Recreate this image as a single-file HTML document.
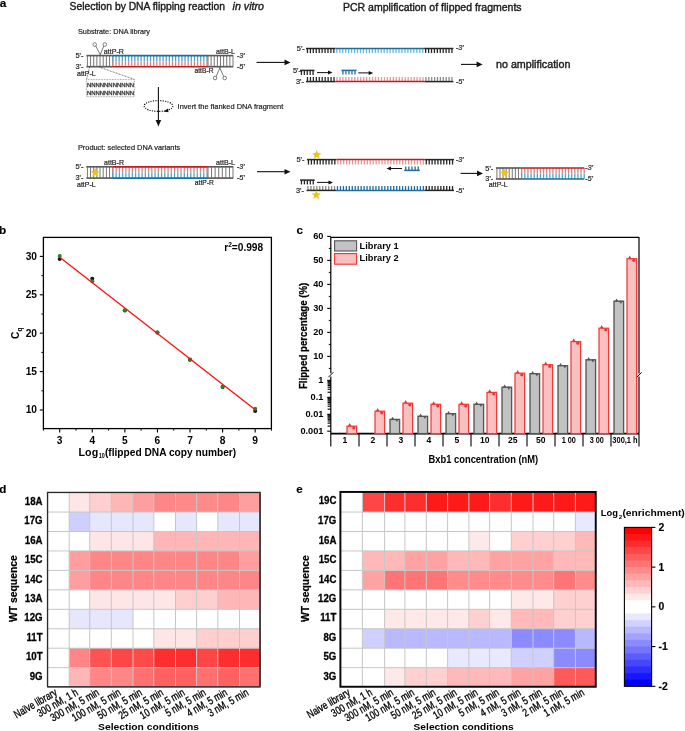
<!DOCTYPE html>
<html><head><meta charset="utf-8"><title>Figure</title>
<style>
html,body{margin:0;padding:0;background:#fff;}
body{width:685px;height:731px;overflow:hidden;}
svg{display:block;font-family:"Liberation Sans",sans-serif;will-change:transform;}
</style></head><body>
<svg width="685" height="731" viewBox="0 0 685 731">
<rect width="685" height="731" fill="#fff"/>
<text x="-0.2" y="6.5" font-size="11.8" font-weight="bold" stroke="#000" stroke-width="0.15">a</text>
<text x="69.6" y="10.2" font-size="11" fill="#1a1a1a" textLength="155.4" lengthAdjust="spacingAndGlyphs" stroke="#1a1a1a" stroke-width="0.4">Selection by DNA flipping reaction</text>
<text x="232.6" y="10.2" font-size="11" fill="#1a1a1a" textLength="31.4" lengthAdjust="spacingAndGlyphs" font-style="italic" stroke="#1a1a1a" stroke-width="0.4">in vitro</text>
<text x="343" y="11" font-size="11" fill="#1a1a1a" textLength="178.6" lengthAdjust="spacingAndGlyphs" stroke="#1a1a1a" stroke-width="0.4">PCR amplification of flipped fragments</text>
<text x="78" y="34" font-size="7.6" fill="#222" textLength="72" lengthAdjust="spacingAndGlyphs" stroke="#222" stroke-width="0.2">Substrate: DNA library</text>
<line x1="87.4" y1="55.6" x2="87.4" y2="66.7" stroke="#707070" stroke-width="0.95" />
<line x1="90.56" y1="55.6" x2="90.56" y2="66.7" stroke="#707070" stroke-width="0.95" />
<line x1="93.73" y1="55.6" x2="93.73" y2="66.7" stroke="#707070" stroke-width="0.95" />
<line x1="96.89" y1="55.6" x2="96.89" y2="66.7" stroke="#707070" stroke-width="0.95" />
<line x1="100.05" y1="55.6" x2="100.05" y2="66.7" stroke="#707070" stroke-width="0.95" />
<line x1="103.21" y1="55.6" x2="103.21" y2="66.7" stroke="#707070" stroke-width="0.95" />
<line x1="106.38" y1="55.6" x2="106.38" y2="66.7" stroke="#707070" stroke-width="0.95" />
<line x1="109.54" y1="55.6" x2="109.54" y2="66.7" stroke="#707070" stroke-width="0.95" />
<line x1="112.7" y1="55.6" x2="112.7" y2="66.7" stroke="#707070" stroke-width="0.95" />
<line x1="112.9" y1="55.6" x2="112.9" y2="61.15" stroke="#4fa6d0" stroke-width="1.3" />
<line x1="112.9" y1="61.15" x2="112.9" y2="66.7" stroke="#e48080" stroke-width="1.3" />
<line x1="116.04" y1="55.6" x2="116.04" y2="61.15" stroke="#4fa6d0" stroke-width="1.3" />
<line x1="116.04" y1="61.15" x2="116.04" y2="66.7" stroke="#e48080" stroke-width="1.3" />
<line x1="119.17" y1="55.6" x2="119.17" y2="61.15" stroke="#4fa6d0" stroke-width="1.3" />
<line x1="119.17" y1="61.15" x2="119.17" y2="66.7" stroke="#e48080" stroke-width="1.3" />
<line x1="122.31" y1="55.6" x2="122.31" y2="61.15" stroke="#4fa6d0" stroke-width="1.3" />
<line x1="122.31" y1="61.15" x2="122.31" y2="66.7" stroke="#e48080" stroke-width="1.3" />
<line x1="125.45" y1="55.6" x2="125.45" y2="61.15" stroke="#4fa6d0" stroke-width="1.3" />
<line x1="125.45" y1="61.15" x2="125.45" y2="66.7" stroke="#e48080" stroke-width="1.3" />
<line x1="128.58" y1="55.6" x2="128.58" y2="61.15" stroke="#4fa6d0" stroke-width="1.3" />
<line x1="128.58" y1="61.15" x2="128.58" y2="66.7" stroke="#e48080" stroke-width="1.3" />
<line x1="131.72" y1="55.6" x2="131.72" y2="61.15" stroke="#4fa6d0" stroke-width="1.3" />
<line x1="131.72" y1="61.15" x2="131.72" y2="66.7" stroke="#e48080" stroke-width="1.3" />
<line x1="134.86" y1="55.6" x2="134.86" y2="61.15" stroke="#4fa6d0" stroke-width="1.3" />
<line x1="134.86" y1="61.15" x2="134.86" y2="66.7" stroke="#e48080" stroke-width="1.3" />
<line x1="137.99" y1="55.6" x2="137.99" y2="61.15" stroke="#4fa6d0" stroke-width="1.3" />
<line x1="137.99" y1="61.15" x2="137.99" y2="66.7" stroke="#e48080" stroke-width="1.3" />
<line x1="141.13" y1="55.6" x2="141.13" y2="61.15" stroke="#4fa6d0" stroke-width="1.3" />
<line x1="141.13" y1="61.15" x2="141.13" y2="66.7" stroke="#e48080" stroke-width="1.3" />
<line x1="144.27" y1="55.6" x2="144.27" y2="61.15" stroke="#4fa6d0" stroke-width="1.3" />
<line x1="144.27" y1="61.15" x2="144.27" y2="66.7" stroke="#e48080" stroke-width="1.3" />
<line x1="147.4" y1="55.6" x2="147.4" y2="61.15" stroke="#4fa6d0" stroke-width="1.3" />
<line x1="147.4" y1="61.15" x2="147.4" y2="66.7" stroke="#e48080" stroke-width="1.3" />
<line x1="150.54" y1="55.6" x2="150.54" y2="61.15" stroke="#4fa6d0" stroke-width="1.3" />
<line x1="150.54" y1="61.15" x2="150.54" y2="66.7" stroke="#e48080" stroke-width="1.3" />
<line x1="153.68" y1="55.6" x2="153.68" y2="61.15" stroke="#4fa6d0" stroke-width="1.3" />
<line x1="153.68" y1="61.15" x2="153.68" y2="66.7" stroke="#e48080" stroke-width="1.3" />
<line x1="156.81" y1="55.6" x2="156.81" y2="61.15" stroke="#4fa6d0" stroke-width="1.3" />
<line x1="156.81" y1="61.15" x2="156.81" y2="66.7" stroke="#e48080" stroke-width="1.3" />
<line x1="159.95" y1="55.6" x2="159.95" y2="61.15" stroke="#4fa6d0" stroke-width="1.3" />
<line x1="159.95" y1="61.15" x2="159.95" y2="66.7" stroke="#e48080" stroke-width="1.3" />
<line x1="163.09" y1="55.6" x2="163.09" y2="61.15" stroke="#4fa6d0" stroke-width="1.3" />
<line x1="163.09" y1="61.15" x2="163.09" y2="66.7" stroke="#e48080" stroke-width="1.3" />
<line x1="166.22" y1="55.6" x2="166.22" y2="61.15" stroke="#4fa6d0" stroke-width="1.3" />
<line x1="166.22" y1="61.15" x2="166.22" y2="66.7" stroke="#e48080" stroke-width="1.3" />
<line x1="169.36" y1="55.6" x2="169.36" y2="61.15" stroke="#4fa6d0" stroke-width="1.3" />
<line x1="169.36" y1="61.15" x2="169.36" y2="66.7" stroke="#e48080" stroke-width="1.3" />
<line x1="172.5" y1="55.6" x2="172.5" y2="61.15" stroke="#4fa6d0" stroke-width="1.3" />
<line x1="172.5" y1="61.15" x2="172.5" y2="66.7" stroke="#e48080" stroke-width="1.3" />
<line x1="175.63" y1="55.6" x2="175.63" y2="61.15" stroke="#4fa6d0" stroke-width="1.3" />
<line x1="175.63" y1="61.15" x2="175.63" y2="66.7" stroke="#e48080" stroke-width="1.3" />
<line x1="178.77" y1="55.6" x2="178.77" y2="61.15" stroke="#4fa6d0" stroke-width="1.3" />
<line x1="178.77" y1="61.15" x2="178.77" y2="66.7" stroke="#e48080" stroke-width="1.3" />
<line x1="181.91" y1="55.6" x2="181.91" y2="61.15" stroke="#4fa6d0" stroke-width="1.3" />
<line x1="181.91" y1="61.15" x2="181.91" y2="66.7" stroke="#e48080" stroke-width="1.3" />
<line x1="185.04" y1="55.6" x2="185.04" y2="61.15" stroke="#4fa6d0" stroke-width="1.3" />
<line x1="185.04" y1="61.15" x2="185.04" y2="66.7" stroke="#e48080" stroke-width="1.3" />
<line x1="188.18" y1="55.6" x2="188.18" y2="61.15" stroke="#4fa6d0" stroke-width="1.3" />
<line x1="188.18" y1="61.15" x2="188.18" y2="66.7" stroke="#e48080" stroke-width="1.3" />
<line x1="191.32" y1="55.6" x2="191.32" y2="61.15" stroke="#4fa6d0" stroke-width="1.3" />
<line x1="191.32" y1="61.15" x2="191.32" y2="66.7" stroke="#e48080" stroke-width="1.3" />
<line x1="194.45" y1="55.6" x2="194.45" y2="61.15" stroke="#4fa6d0" stroke-width="1.3" />
<line x1="194.45" y1="61.15" x2="194.45" y2="66.7" stroke="#e48080" stroke-width="1.3" />
<line x1="197.59" y1="55.6" x2="197.59" y2="61.15" stroke="#4fa6d0" stroke-width="1.3" />
<line x1="197.59" y1="61.15" x2="197.59" y2="66.7" stroke="#e48080" stroke-width="1.3" />
<line x1="200.73" y1="55.6" x2="200.73" y2="61.15" stroke="#4fa6d0" stroke-width="1.3" />
<line x1="200.73" y1="61.15" x2="200.73" y2="66.7" stroke="#e48080" stroke-width="1.3" />
<line x1="203.86" y1="55.6" x2="203.86" y2="61.15" stroke="#4fa6d0" stroke-width="1.3" />
<line x1="203.86" y1="61.15" x2="203.86" y2="66.7" stroke="#e48080" stroke-width="1.3" />
<line x1="207" y1="55.6" x2="207" y2="61.15" stroke="#4fa6d0" stroke-width="1.3" />
<line x1="207" y1="61.15" x2="207" y2="66.7" stroke="#e48080" stroke-width="1.3" />
<line x1="208" y1="55.6" x2="208" y2="66.7" stroke="#707070" stroke-width="0.95" />
<line x1="211.12" y1="55.6" x2="211.12" y2="66.7" stroke="#707070" stroke-width="0.95" />
<line x1="214.25" y1="55.6" x2="214.25" y2="66.7" stroke="#707070" stroke-width="0.95" />
<line x1="217.38" y1="55.6" x2="217.38" y2="66.7" stroke="#707070" stroke-width="0.95" />
<line x1="220.5" y1="55.6" x2="220.5" y2="66.7" stroke="#707070" stroke-width="0.95" />
<line x1="223.62" y1="55.6" x2="223.62" y2="66.7" stroke="#707070" stroke-width="0.95" />
<line x1="226.75" y1="55.6" x2="226.75" y2="66.7" stroke="#707070" stroke-width="0.95" />
<line x1="229.88" y1="55.6" x2="229.88" y2="66.7" stroke="#707070" stroke-width="0.95" />
<line x1="233" y1="55.6" x2="233" y2="66.7" stroke="#707070" stroke-width="0.95" />
<line x1="86.4" y1="55.6" x2="112.9" y2="55.6" stroke="#5a5a5a" stroke-width="1.65" />
<line x1="86.4" y1="66.7" x2="112.9" y2="66.7" stroke="#5a5a5a" stroke-width="1.65" />
<line x1="112.9" y1="55.6" x2="207" y2="55.6" stroke="#1f6c9e" stroke-width="1.65" />
<line x1="112.9" y1="66.7" x2="207" y2="66.7" stroke="#c01c20" stroke-width="1.65" />
<line x1="207" y1="55.6" x2="233.2" y2="55.6" stroke="#5a5a5a" stroke-width="1.65" />
<line x1="207" y1="66.7" x2="233.2" y2="66.7" stroke="#5a5a5a" stroke-width="1.65" />
<text x="75.5" y="58.2" font-size="7.4" fill="#222" stroke="#222" stroke-width="0.2">5'-</text>
<text x="75.5" y="69" font-size="7.4" fill="#222" stroke="#222" stroke-width="0.2">3'-</text>
<text x="236.8" y="58" font-size="7.4" fill="#222" font-style="italic" stroke="#222" stroke-width="0.2">-3'</text>
<text x="236.8" y="69" font-size="7.4" fill="#222" font-style="italic" stroke="#222" stroke-width="0.2">-5'</text>
<text x="103.8" y="53.6" font-size="7.2" fill="#222" textLength="20.2" lengthAdjust="spacingAndGlyphs" stroke="#222" stroke-width="0.2">attP-R</text>
<text x="77" y="75.8" font-size="7.2" fill="#222" textLength="18.8" lengthAdjust="spacingAndGlyphs" stroke="#222" stroke-width="0.2">attP-L</text>
<text x="216" y="53.6" font-size="7.2" fill="#222" textLength="19" lengthAdjust="spacingAndGlyphs" stroke="#222" stroke-width="0.2">attB-L</text>
<text x="194.5" y="73.3" font-size="7.2" fill="#222" textLength="19" lengthAdjust="spacingAndGlyphs" stroke="#222" stroke-width="0.2">attB-R</text>
<line x1="95.6" y1="45.8" x2="100.8" y2="55.6" stroke="#555" stroke-width="0.8" />
<line x1="103.9" y1="45.8" x2="99.8" y2="55.6" stroke="#555" stroke-width="0.8" />
<circle cx="94.7" cy="44.5" r="1.8" fill="#fff" stroke="#555" stroke-width="0.75"/>
<circle cx="104.8" cy="44.5" r="1.8" fill="#fff" stroke="#555" stroke-width="0.75"/>
<line x1="216" y1="76.7" x2="220.3" y2="66.9" stroke="#555" stroke-width="0.8" />
<line x1="223.8" y1="76.7" x2="219.3" y2="66.9" stroke="#555" stroke-width="0.8" />
<circle cx="215.1" cy="78" r="1.8" fill="#fff" stroke="#555" stroke-width="0.75"/>
<circle cx="224.7" cy="78" r="1.8" fill="#fff" stroke="#555" stroke-width="0.75"/>
<line x1="89.6" y1="67.2" x2="86.6" y2="79.4" stroke="#222" stroke-width="0.75" stroke-dasharray="0.8 0.8"/>
<line x1="99.5" y1="67.2" x2="134.5" y2="79.4" stroke="#222" stroke-width="0.75" stroke-dasharray="0.8 0.8"/>
<rect x="86.4" y="79.6" width="48.1" height="17.1" fill="none" stroke="#555" stroke-width="0.6" stroke-dasharray="0.8 0.8"/>
<text x="87" y="86.8" font-size="6.2" fill="#333" textLength="47" lengthAdjust="spacingAndGlyphs" stroke="#333" stroke-width="0.3">NNNNNNNNNNN</text>
<text x="87" y="95.3" font-size="6.2" fill="#333" textLength="47" lengthAdjust="spacingAndGlyphs" stroke="#333" stroke-width="0.3">NNNNNNNNNNN</text>
<ellipse cx="158.5" cy="106" rx="14.4" ry="5.4" fill="none" stroke="#000" stroke-width="1.15" stroke-dasharray="1.1 1.3"/>
<line x1="158.4" y1="87" x2="158.4" y2="121" stroke="#111" stroke-width="1.1" />
<path d="M158.4 126.5L155.6 120L161.2 120Z" fill="#111"/>
<path d="M163.5 111.6L168 108.6L168.5 112.2Z" fill="#111"/>
<text x="177.6" y="109.2" font-size="7.6" fill="#222" textLength="105.7" lengthAdjust="spacingAndGlyphs" stroke="#222" stroke-width="0.2">Invert the flanked DNA fragment</text>
<text x="77.9" y="149.9" font-size="7.6" fill="#222" textLength="102.3" lengthAdjust="spacingAndGlyphs" stroke="#222" stroke-width="0.2">Product: selected DNA variants</text>
<line x1="87.4" y1="166.8" x2="87.4" y2="178.1" stroke="#707070" stroke-width="0.95" />
<line x1="90.56" y1="166.8" x2="90.56" y2="178.1" stroke="#707070" stroke-width="0.95" />
<line x1="93.73" y1="166.8" x2="93.73" y2="178.1" stroke="#707070" stroke-width="0.95" />
<line x1="96.89" y1="166.8" x2="96.89" y2="178.1" stroke="#707070" stroke-width="0.95" />
<line x1="100.05" y1="166.8" x2="100.05" y2="178.1" stroke="#707070" stroke-width="0.95" />
<line x1="103.21" y1="166.8" x2="103.21" y2="178.1" stroke="#707070" stroke-width="0.95" />
<line x1="106.38" y1="166.8" x2="106.38" y2="178.1" stroke="#707070" stroke-width="0.95" />
<line x1="109.54" y1="166.8" x2="109.54" y2="178.1" stroke="#707070" stroke-width="0.95" />
<line x1="112.7" y1="166.8" x2="112.7" y2="178.1" stroke="#707070" stroke-width="0.95" />
<line x1="112.9" y1="166.8" x2="112.9" y2="172.45" stroke="#e48080" stroke-width="1.3" />
<line x1="112.9" y1="172.45" x2="112.9" y2="178.1" stroke="#4fa6d0" stroke-width="1.3" />
<line x1="116.14" y1="166.8" x2="116.14" y2="172.45" stroke="#e48080" stroke-width="1.3" />
<line x1="116.14" y1="172.45" x2="116.14" y2="178.1" stroke="#4fa6d0" stroke-width="1.3" />
<line x1="119.39" y1="166.8" x2="119.39" y2="172.45" stroke="#e48080" stroke-width="1.3" />
<line x1="119.39" y1="172.45" x2="119.39" y2="178.1" stroke="#4fa6d0" stroke-width="1.3" />
<line x1="122.63" y1="166.8" x2="122.63" y2="172.45" stroke="#e48080" stroke-width="1.3" />
<line x1="122.63" y1="172.45" x2="122.63" y2="178.1" stroke="#4fa6d0" stroke-width="1.3" />
<line x1="125.88" y1="166.8" x2="125.88" y2="172.45" stroke="#e48080" stroke-width="1.3" />
<line x1="125.88" y1="172.45" x2="125.88" y2="178.1" stroke="#4fa6d0" stroke-width="1.3" />
<line x1="129.12" y1="166.8" x2="129.12" y2="172.45" stroke="#e48080" stroke-width="1.3" />
<line x1="129.12" y1="172.45" x2="129.12" y2="178.1" stroke="#4fa6d0" stroke-width="1.3" />
<line x1="132.37" y1="166.8" x2="132.37" y2="172.45" stroke="#e48080" stroke-width="1.3" />
<line x1="132.37" y1="172.45" x2="132.37" y2="178.1" stroke="#4fa6d0" stroke-width="1.3" />
<line x1="135.61" y1="166.8" x2="135.61" y2="172.45" stroke="#e48080" stroke-width="1.3" />
<line x1="135.61" y1="172.45" x2="135.61" y2="178.1" stroke="#4fa6d0" stroke-width="1.3" />
<line x1="138.86" y1="166.8" x2="138.86" y2="172.45" stroke="#e48080" stroke-width="1.3" />
<line x1="138.86" y1="172.45" x2="138.86" y2="178.1" stroke="#4fa6d0" stroke-width="1.3" />
<line x1="142.1" y1="166.8" x2="142.1" y2="172.45" stroke="#e48080" stroke-width="1.3" />
<line x1="142.1" y1="172.45" x2="142.1" y2="178.1" stroke="#4fa6d0" stroke-width="1.3" />
<line x1="145.35" y1="166.8" x2="145.35" y2="172.45" stroke="#e48080" stroke-width="1.3" />
<line x1="145.35" y1="172.45" x2="145.35" y2="178.1" stroke="#4fa6d0" stroke-width="1.3" />
<line x1="148.59" y1="166.8" x2="148.59" y2="172.45" stroke="#e48080" stroke-width="1.3" />
<line x1="148.59" y1="172.45" x2="148.59" y2="178.1" stroke="#4fa6d0" stroke-width="1.3" />
<line x1="151.84" y1="166.8" x2="151.84" y2="172.45" stroke="#e48080" stroke-width="1.3" />
<line x1="151.84" y1="172.45" x2="151.84" y2="178.1" stroke="#4fa6d0" stroke-width="1.3" />
<line x1="155.08" y1="166.8" x2="155.08" y2="172.45" stroke="#e48080" stroke-width="1.3" />
<line x1="155.08" y1="172.45" x2="155.08" y2="178.1" stroke="#4fa6d0" stroke-width="1.3" />
<line x1="158.33" y1="166.8" x2="158.33" y2="172.45" stroke="#e48080" stroke-width="1.3" />
<line x1="158.33" y1="172.45" x2="158.33" y2="178.1" stroke="#4fa6d0" stroke-width="1.3" />
<line x1="161.57" y1="166.8" x2="161.57" y2="172.45" stroke="#e48080" stroke-width="1.3" />
<line x1="161.57" y1="172.45" x2="161.57" y2="178.1" stroke="#4fa6d0" stroke-width="1.3" />
<line x1="164.82" y1="166.8" x2="164.82" y2="172.45" stroke="#e48080" stroke-width="1.3" />
<line x1="164.82" y1="172.45" x2="164.82" y2="178.1" stroke="#4fa6d0" stroke-width="1.3" />
<line x1="168.06" y1="166.8" x2="168.06" y2="172.45" stroke="#e48080" stroke-width="1.3" />
<line x1="168.06" y1="172.45" x2="168.06" y2="178.1" stroke="#4fa6d0" stroke-width="1.3" />
<line x1="171.31" y1="166.8" x2="171.31" y2="172.45" stroke="#e48080" stroke-width="1.3" />
<line x1="171.31" y1="172.45" x2="171.31" y2="178.1" stroke="#4fa6d0" stroke-width="1.3" />
<line x1="174.55" y1="166.8" x2="174.55" y2="172.45" stroke="#e48080" stroke-width="1.3" />
<line x1="174.55" y1="172.45" x2="174.55" y2="178.1" stroke="#4fa6d0" stroke-width="1.3" />
<line x1="177.8" y1="166.8" x2="177.8" y2="172.45" stroke="#e48080" stroke-width="1.3" />
<line x1="177.8" y1="172.45" x2="177.8" y2="178.1" stroke="#4fa6d0" stroke-width="1.3" />
<line x1="181.04" y1="166.8" x2="181.04" y2="172.45" stroke="#e48080" stroke-width="1.3" />
<line x1="181.04" y1="172.45" x2="181.04" y2="178.1" stroke="#4fa6d0" stroke-width="1.3" />
<line x1="184.29" y1="166.8" x2="184.29" y2="172.45" stroke="#e48080" stroke-width="1.3" />
<line x1="184.29" y1="172.45" x2="184.29" y2="178.1" stroke="#4fa6d0" stroke-width="1.3" />
<line x1="187.53" y1="166.8" x2="187.53" y2="172.45" stroke="#e48080" stroke-width="1.3" />
<line x1="187.53" y1="172.45" x2="187.53" y2="178.1" stroke="#4fa6d0" stroke-width="1.3" />
<line x1="190.78" y1="166.8" x2="190.78" y2="172.45" stroke="#e48080" stroke-width="1.3" />
<line x1="190.78" y1="172.45" x2="190.78" y2="178.1" stroke="#4fa6d0" stroke-width="1.3" />
<line x1="194.02" y1="166.8" x2="194.02" y2="172.45" stroke="#e48080" stroke-width="1.3" />
<line x1="194.02" y1="172.45" x2="194.02" y2="178.1" stroke="#4fa6d0" stroke-width="1.3" />
<line x1="197.27" y1="166.8" x2="197.27" y2="172.45" stroke="#e48080" stroke-width="1.3" />
<line x1="197.27" y1="172.45" x2="197.27" y2="178.1" stroke="#4fa6d0" stroke-width="1.3" />
<line x1="200.51" y1="166.8" x2="200.51" y2="172.45" stroke="#e48080" stroke-width="1.3" />
<line x1="200.51" y1="172.45" x2="200.51" y2="178.1" stroke="#4fa6d0" stroke-width="1.3" />
<line x1="203.76" y1="166.8" x2="203.76" y2="172.45" stroke="#e48080" stroke-width="1.3" />
<line x1="203.76" y1="172.45" x2="203.76" y2="178.1" stroke="#4fa6d0" stroke-width="1.3" />
<line x1="207" y1="166.8" x2="207" y2="172.45" stroke="#e48080" stroke-width="1.3" />
<line x1="207" y1="172.45" x2="207" y2="178.1" stroke="#4fa6d0" stroke-width="1.3" />
<line x1="208" y1="166.8" x2="208" y2="178.1" stroke="#707070" stroke-width="0.95" />
<line x1="211.57" y1="166.8" x2="211.57" y2="178.1" stroke="#707070" stroke-width="0.95" />
<line x1="215.14" y1="166.8" x2="215.14" y2="178.1" stroke="#707070" stroke-width="0.95" />
<line x1="218.71" y1="166.8" x2="218.71" y2="178.1" stroke="#707070" stroke-width="0.95" />
<line x1="222.29" y1="166.8" x2="222.29" y2="178.1" stroke="#707070" stroke-width="0.95" />
<line x1="225.86" y1="166.8" x2="225.86" y2="178.1" stroke="#707070" stroke-width="0.95" />
<line x1="229.43" y1="166.8" x2="229.43" y2="178.1" stroke="#707070" stroke-width="0.95" />
<line x1="233" y1="166.8" x2="233" y2="178.1" stroke="#707070" stroke-width="0.95" />
<line x1="86.4" y1="166.8" x2="112.9" y2="166.8" stroke="#5a5a5a" stroke-width="1.65" />
<line x1="86.4" y1="178.1" x2="112.9" y2="178.1" stroke="#5a5a5a" stroke-width="1.65" />
<line x1="112.9" y1="166.8" x2="207" y2="166.8" stroke="#c01c20" stroke-width="1.65" />
<line x1="112.9" y1="178.1" x2="207" y2="178.1" stroke="#1f6c9e" stroke-width="1.65" />
<line x1="207" y1="166.8" x2="233.2" y2="166.8" stroke="#5a5a5a" stroke-width="1.65" />
<line x1="207" y1="178.1" x2="233.2" y2="178.1" stroke="#5a5a5a" stroke-width="1.65" />
<polygon points="95.2,167.7 96.52,170.88 99.96,171.15 97.34,173.4 98.14,176.75 95.2,174.95 92.26,176.75 93.06,173.4 90.44,171.15 93.88,170.88" fill="#f0c21c"/>
<text x="75.5" y="169.4" font-size="7.4" fill="#222" stroke="#222" stroke-width="0.2">5'-</text>
<text x="75.5" y="180.4" font-size="7.4" fill="#222" stroke="#222" stroke-width="0.2">3'-</text>
<text x="236.8" y="169" font-size="7.4" fill="#222" font-style="italic" stroke="#222" stroke-width="0.2">-3'</text>
<text x="236.8" y="180" font-size="7.4" fill="#222" font-style="italic" stroke="#222" stroke-width="0.2">-5'</text>
<text x="104" y="165" font-size="7.2" fill="#222" textLength="20" lengthAdjust="spacingAndGlyphs" stroke="#222" stroke-width="0.2">attB-R</text>
<text x="77" y="186.8" font-size="7.2" fill="#222" textLength="18.8" lengthAdjust="spacingAndGlyphs" stroke="#222" stroke-width="0.2">attP-L</text>
<text x="216" y="165" font-size="7.2" fill="#222" textLength="19" lengthAdjust="spacingAndGlyphs" stroke="#222" stroke-width="0.2">attB-L</text>
<text x="194.8" y="185.3" font-size="7.2" fill="#222" textLength="19.2" lengthAdjust="spacingAndGlyphs" stroke="#222" stroke-width="0.2">attP-R</text>
<line x1="256.5" y1="62.4" x2="285" y2="62.4" stroke="#111" stroke-width="1.1" />
<path d="M290.5 62.4L284.5 59.6L284.5 65.2Z" fill="#111"/>
<line x1="257" y1="171.7" x2="285" y2="171.7" stroke="#111" stroke-width="1.1" />
<path d="M290.5 171.7L284.5 168.9L284.5 174.5Z" fill="#111"/>
<text x="296.8" y="51.2" font-size="7.4" fill="#222" stroke="#222" stroke-width="0.2">5'-</text>
<line x1="307.46" y1="48.5" x2="307.46" y2="53.1" stroke="#262626" stroke-width="1.3" />
<line x1="310.39" y1="48.5" x2="310.39" y2="53.1" stroke="#262626" stroke-width="1.3" />
<line x1="313.32" y1="48.5" x2="313.32" y2="53.1" stroke="#262626" stroke-width="1.3" />
<line x1="316.25" y1="48.5" x2="316.25" y2="53.1" stroke="#262626" stroke-width="1.3" />
<line x1="319.19" y1="48.5" x2="319.19" y2="53.1" stroke="#262626" stroke-width="1.3" />
<line x1="322.12" y1="48.5" x2="322.12" y2="53.1" stroke="#262626" stroke-width="1.3" />
<line x1="325.05" y1="48.5" x2="325.05" y2="53.1" stroke="#262626" stroke-width="1.3" />
<line x1="327.98" y1="48.5" x2="327.98" y2="53.1" stroke="#262626" stroke-width="1.3" />
<line x1="330.91" y1="48.5" x2="330.91" y2="53.1" stroke="#262626" stroke-width="1.3" />
<line x1="333.84" y1="48.5" x2="333.84" y2="53.1" stroke="#262626" stroke-width="1.3" />
<line x1="336.78" y1="48.5" x2="336.78" y2="53.1" stroke="#6cb8da" stroke-width="1.3" />
<line x1="339.75" y1="48.5" x2="339.75" y2="53.1" stroke="#6cb8da" stroke-width="1.3" />
<line x1="342.71" y1="48.5" x2="342.71" y2="53.1" stroke="#6cb8da" stroke-width="1.3" />
<line x1="345.67" y1="48.5" x2="345.67" y2="53.1" stroke="#6cb8da" stroke-width="1.3" />
<line x1="348.63" y1="48.5" x2="348.63" y2="53.1" stroke="#6cb8da" stroke-width="1.3" />
<line x1="351.6" y1="48.5" x2="351.6" y2="53.1" stroke="#6cb8da" stroke-width="1.3" />
<line x1="354.56" y1="48.5" x2="354.56" y2="53.1" stroke="#6cb8da" stroke-width="1.3" />
<line x1="357.52" y1="48.5" x2="357.52" y2="53.1" stroke="#6cb8da" stroke-width="1.3" />
<line x1="360.49" y1="48.5" x2="360.49" y2="53.1" stroke="#6cb8da" stroke-width="1.3" />
<line x1="363.45" y1="48.5" x2="363.45" y2="53.1" stroke="#6cb8da" stroke-width="1.3" />
<line x1="366.42" y1="48.5" x2="366.42" y2="53.1" stroke="#6cb8da" stroke-width="1.3" />
<line x1="369.38" y1="48.5" x2="369.38" y2="53.1" stroke="#6cb8da" stroke-width="1.3" />
<line x1="372.34" y1="48.5" x2="372.34" y2="53.1" stroke="#6cb8da" stroke-width="1.3" />
<line x1="375.31" y1="48.5" x2="375.31" y2="53.1" stroke="#6cb8da" stroke-width="1.3" />
<line x1="378.27" y1="48.5" x2="378.27" y2="53.1" stroke="#6cb8da" stroke-width="1.3" />
<line x1="381.23" y1="48.5" x2="381.23" y2="53.1" stroke="#6cb8da" stroke-width="1.3" />
<line x1="384.19" y1="48.5" x2="384.19" y2="53.1" stroke="#6cb8da" stroke-width="1.3" />
<line x1="387.16" y1="48.5" x2="387.16" y2="53.1" stroke="#6cb8da" stroke-width="1.3" />
<line x1="390.12" y1="48.5" x2="390.12" y2="53.1" stroke="#6cb8da" stroke-width="1.3" />
<line x1="393.08" y1="48.5" x2="393.08" y2="53.1" stroke="#6cb8da" stroke-width="1.3" />
<line x1="396.05" y1="48.5" x2="396.05" y2="53.1" stroke="#6cb8da" stroke-width="1.3" />
<line x1="399.01" y1="48.5" x2="399.01" y2="53.1" stroke="#6cb8da" stroke-width="1.3" />
<line x1="401.98" y1="48.5" x2="401.98" y2="53.1" stroke="#6cb8da" stroke-width="1.3" />
<line x1="404.94" y1="48.5" x2="404.94" y2="53.1" stroke="#6cb8da" stroke-width="1.3" />
<line x1="407.9" y1="48.5" x2="407.9" y2="53.1" stroke="#6cb8da" stroke-width="1.3" />
<line x1="410.87" y1="48.5" x2="410.87" y2="53.1" stroke="#6cb8da" stroke-width="1.3" />
<line x1="413.83" y1="48.5" x2="413.83" y2="53.1" stroke="#6cb8da" stroke-width="1.3" />
<line x1="416.79" y1="48.5" x2="416.79" y2="53.1" stroke="#6cb8da" stroke-width="1.3" />
<line x1="419.75" y1="48.5" x2="419.75" y2="53.1" stroke="#6cb8da" stroke-width="1.3" />
<line x1="422.72" y1="48.5" x2="422.72" y2="53.1" stroke="#6cb8da" stroke-width="1.3" />
<line x1="425.66" y1="48.5" x2="425.66" y2="53.1" stroke="#262626" stroke-width="1.3" />
<line x1="428.58" y1="48.5" x2="428.58" y2="53.1" stroke="#262626" stroke-width="1.3" />
<line x1="431.5" y1="48.5" x2="431.5" y2="53.1" stroke="#262626" stroke-width="1.3" />
<line x1="434.42" y1="48.5" x2="434.42" y2="53.1" stroke="#262626" stroke-width="1.3" />
<line x1="437.34" y1="48.5" x2="437.34" y2="53.1" stroke="#262626" stroke-width="1.3" />
<line x1="440.26" y1="48.5" x2="440.26" y2="53.1" stroke="#262626" stroke-width="1.3" />
<line x1="443.18" y1="48.5" x2="443.18" y2="53.1" stroke="#262626" stroke-width="1.3" />
<line x1="446.1" y1="48.5" x2="446.1" y2="53.1" stroke="#262626" stroke-width="1.3" />
<line x1="449.02" y1="48.5" x2="449.02" y2="53.1" stroke="#262626" stroke-width="1.3" />
<line x1="451.94" y1="48.5" x2="451.94" y2="53.1" stroke="#262626" stroke-width="1.3" />
<line x1="306" y1="48.5" x2="335.3" y2="48.5" stroke="#262626" stroke-width="1.5" />
<line x1="335.3" y1="48.5" x2="424.2" y2="48.5" stroke="#1f6c9e" stroke-width="1.5" />
<line x1="424.2" y1="48.5" x2="453.4" y2="48.5" stroke="#262626" stroke-width="1.5" />
<text x="455.8" y="50.4" font-size="7.4" fill="#222" font-style="italic" stroke="#222" stroke-width="0.2">-3'</text>
<text x="293" y="73.4" font-size="7.4" fill="#222" stroke="#222" stroke-width="0.2">5'-</text>
<line x1="301.45" y1="70.4" x2="301.45" y2="75" stroke="#262626" stroke-width="1.3" />
<line x1="304.35" y1="70.4" x2="304.35" y2="75" stroke="#262626" stroke-width="1.3" />
<line x1="307.25" y1="70.4" x2="307.25" y2="75" stroke="#262626" stroke-width="1.3" />
<line x1="310.15" y1="70.4" x2="310.15" y2="75" stroke="#262626" stroke-width="1.3" />
<line x1="313.05" y1="70.4" x2="313.05" y2="75" stroke="#262626" stroke-width="1.3" />
<line x1="300" y1="70.4" x2="314.5" y2="70.4" stroke="#262626" stroke-width="1.5" />
<line x1="317" y1="72.6" x2="328.5" y2="72.6" stroke="#111" stroke-width="1" />
<path d="M332.5 72.6L328 70.6L328 74.6Z" fill="#111"/>
<line x1="342.91" y1="70.4" x2="342.91" y2="74.6" stroke="#1f6c9e" stroke-width="1.3" />
<line x1="345.93" y1="70.4" x2="345.93" y2="74.6" stroke="#1f6c9e" stroke-width="1.3" />
<line x1="348.95" y1="70.4" x2="348.95" y2="74.6" stroke="#1f6c9e" stroke-width="1.3" />
<line x1="351.97" y1="70.4" x2="351.97" y2="74.6" stroke="#1f6c9e" stroke-width="1.3" />
<line x1="354.99" y1="70.4" x2="354.99" y2="74.6" stroke="#1f6c9e" stroke-width="1.3" />
<line x1="341.4" y1="70.4" x2="356.5" y2="70.4" stroke="#1f6c9e" stroke-width="1.5" />
<line x1="358.2" y1="72.9" x2="369.2" y2="72.9" stroke="#111" stroke-width="1" />
<path d="M373.2 72.9L368.7 70.9L368.7 74.9Z" fill="#111"/>
<text x="296" y="83.6" font-size="7.4" fill="#222" stroke="#222" stroke-width="0.2">3'-</text>
<line x1="307.48" y1="81.6" x2="307.48" y2="77" stroke="#262626" stroke-width="1.3" />
<line x1="310.43" y1="81.6" x2="310.43" y2="77" stroke="#262626" stroke-width="1.3" />
<line x1="313.38" y1="81.6" x2="313.38" y2="77" stroke="#262626" stroke-width="1.3" />
<line x1="316.32" y1="81.6" x2="316.32" y2="77" stroke="#262626" stroke-width="1.3" />
<line x1="319.27" y1="81.6" x2="319.27" y2="77" stroke="#262626" stroke-width="1.3" />
<line x1="322.23" y1="81.6" x2="322.23" y2="77" stroke="#262626" stroke-width="1.3" />
<line x1="325.18" y1="81.6" x2="325.18" y2="77" stroke="#262626" stroke-width="1.3" />
<line x1="328.12" y1="81.6" x2="328.12" y2="77" stroke="#262626" stroke-width="1.3" />
<line x1="331.07" y1="81.6" x2="331.07" y2="77" stroke="#262626" stroke-width="1.3" />
<line x1="334.02" y1="81.6" x2="334.02" y2="77" stroke="#262626" stroke-width="1.3" />
<line x1="336.98" y1="81.6" x2="336.98" y2="77" stroke="#eb9898" stroke-width="1.3" />
<line x1="339.95" y1="81.6" x2="339.95" y2="77" stroke="#eb9898" stroke-width="1.3" />
<line x1="342.92" y1="81.6" x2="342.92" y2="77" stroke="#eb9898" stroke-width="1.3" />
<line x1="345.88" y1="81.6" x2="345.88" y2="77" stroke="#eb9898" stroke-width="1.3" />
<line x1="348.85" y1="81.6" x2="348.85" y2="77" stroke="#eb9898" stroke-width="1.3" />
<line x1="351.82" y1="81.6" x2="351.82" y2="77" stroke="#eb9898" stroke-width="1.3" />
<line x1="354.78" y1="81.6" x2="354.78" y2="77" stroke="#eb9898" stroke-width="1.3" />
<line x1="357.75" y1="81.6" x2="357.75" y2="77" stroke="#eb9898" stroke-width="1.3" />
<line x1="360.72" y1="81.6" x2="360.72" y2="77" stroke="#eb9898" stroke-width="1.3" />
<line x1="363.68" y1="81.6" x2="363.68" y2="77" stroke="#eb9898" stroke-width="1.3" />
<line x1="366.65" y1="81.6" x2="366.65" y2="77" stroke="#eb9898" stroke-width="1.3" />
<line x1="369.62" y1="81.6" x2="369.62" y2="77" stroke="#eb9898" stroke-width="1.3" />
<line x1="372.58" y1="81.6" x2="372.58" y2="77" stroke="#eb9898" stroke-width="1.3" />
<line x1="375.55" y1="81.6" x2="375.55" y2="77" stroke="#eb9898" stroke-width="1.3" />
<line x1="378.52" y1="81.6" x2="378.52" y2="77" stroke="#eb9898" stroke-width="1.3" />
<line x1="381.48" y1="81.6" x2="381.48" y2="77" stroke="#eb9898" stroke-width="1.3" />
<line x1="384.45" y1="81.6" x2="384.45" y2="77" stroke="#eb9898" stroke-width="1.3" />
<line x1="387.42" y1="81.6" x2="387.42" y2="77" stroke="#eb9898" stroke-width="1.3" />
<line x1="390.38" y1="81.6" x2="390.38" y2="77" stroke="#eb9898" stroke-width="1.3" />
<line x1="393.35" y1="81.6" x2="393.35" y2="77" stroke="#eb9898" stroke-width="1.3" />
<line x1="396.32" y1="81.6" x2="396.32" y2="77" stroke="#eb9898" stroke-width="1.3" />
<line x1="399.28" y1="81.6" x2="399.28" y2="77" stroke="#eb9898" stroke-width="1.3" />
<line x1="402.25" y1="81.6" x2="402.25" y2="77" stroke="#eb9898" stroke-width="1.3" />
<line x1="405.22" y1="81.6" x2="405.22" y2="77" stroke="#eb9898" stroke-width="1.3" />
<line x1="408.18" y1="81.6" x2="408.18" y2="77" stroke="#eb9898" stroke-width="1.3" />
<line x1="411.15" y1="81.6" x2="411.15" y2="77" stroke="#eb9898" stroke-width="1.3" />
<line x1="414.12" y1="81.6" x2="414.12" y2="77" stroke="#eb9898" stroke-width="1.3" />
<line x1="417.08" y1="81.6" x2="417.08" y2="77" stroke="#eb9898" stroke-width="1.3" />
<line x1="420.05" y1="81.6" x2="420.05" y2="77" stroke="#eb9898" stroke-width="1.3" />
<line x1="423.02" y1="81.6" x2="423.02" y2="77" stroke="#eb9898" stroke-width="1.3" />
<line x1="425.94" y1="81.6" x2="425.94" y2="77" stroke="#8a8a8a" stroke-width="1.3" />
<line x1="428.83" y1="81.6" x2="428.83" y2="77" stroke="#8a8a8a" stroke-width="1.3" />
<line x1="431.73" y1="81.6" x2="431.73" y2="77" stroke="#8a8a8a" stroke-width="1.3" />
<line x1="434.62" y1="81.6" x2="434.62" y2="77" stroke="#8a8a8a" stroke-width="1.3" />
<line x1="437.5" y1="81.6" x2="437.5" y2="77" stroke="#8a8a8a" stroke-width="1.3" />
<line x1="440.39" y1="81.6" x2="440.39" y2="77" stroke="#8a8a8a" stroke-width="1.3" />
<line x1="443.28" y1="81.6" x2="443.28" y2="77" stroke="#8a8a8a" stroke-width="1.3" />
<line x1="446.17" y1="81.6" x2="446.17" y2="77" stroke="#8a8a8a" stroke-width="1.3" />
<line x1="449.06" y1="81.6" x2="449.06" y2="77" stroke="#8a8a8a" stroke-width="1.3" />
<line x1="451.95" y1="81.6" x2="451.95" y2="77" stroke="#8a8a8a" stroke-width="1.3" />
<line x1="306" y1="81.6" x2="335.5" y2="81.6" stroke="#262626" stroke-width="1.5" />
<line x1="335.5" y1="81.6" x2="424.5" y2="81.6" stroke="#c01c20" stroke-width="1.5" />
<line x1="424.5" y1="81.6" x2="453.4" y2="81.6" stroke="#262626" stroke-width="1.5" />
<text x="455.8" y="83.6" font-size="7.4" fill="#222" font-style="italic" stroke="#222" stroke-width="0.2">-5'</text>
<line x1="461" y1="64.4" x2="477.1" y2="64.4" stroke="#111" stroke-width="1.1" />
<path d="M482.6 64.4L476.6 61.6L476.6 67.2Z" fill="#111"/>
<text x="496" y="67.6" font-size="11" fill="#1a1a1a" textLength="74.4" lengthAdjust="spacingAndGlyphs" stroke="#1a1a1a" stroke-width="0.4">no amplification</text>
<polygon points="316.7,150 318,153.12 321.36,153.39 318.8,155.58 319.58,158.86 316.7,157.11 313.82,158.86 314.6,155.58 312.04,153.39 315.4,153.12" fill="#f0c21c"/>
<text x="296.5" y="162.4" font-size="7.4" fill="#222" stroke="#222" stroke-width="0.2">5'-</text>
<line x1="308.46" y1="159.6" x2="308.46" y2="164.6" stroke="#262626" stroke-width="1.3" />
<line x1="311.39" y1="159.6" x2="311.39" y2="164.6" stroke="#262626" stroke-width="1.3" />
<line x1="314.32" y1="159.6" x2="314.32" y2="164.6" stroke="#262626" stroke-width="1.3" />
<line x1="317.25" y1="159.6" x2="317.25" y2="164.6" stroke="#262626" stroke-width="1.3" />
<line x1="320.19" y1="159.6" x2="320.19" y2="164.6" stroke="#262626" stroke-width="1.3" />
<line x1="323.12" y1="159.6" x2="323.12" y2="164.6" stroke="#262626" stroke-width="1.3" />
<line x1="326.05" y1="159.6" x2="326.05" y2="164.6" stroke="#262626" stroke-width="1.3" />
<line x1="328.98" y1="159.6" x2="328.98" y2="164.6" stroke="#262626" stroke-width="1.3" />
<line x1="331.91" y1="159.6" x2="331.91" y2="164.6" stroke="#262626" stroke-width="1.3" />
<line x1="334.84" y1="159.6" x2="334.84" y2="164.6" stroke="#262626" stroke-width="1.3" />
<line x1="337.78" y1="159.6" x2="337.78" y2="164.6" stroke="#eb9898" stroke-width="1.3" />
<line x1="340.73" y1="159.6" x2="340.73" y2="164.6" stroke="#eb9898" stroke-width="1.3" />
<line x1="343.68" y1="159.6" x2="343.68" y2="164.6" stroke="#eb9898" stroke-width="1.3" />
<line x1="346.62" y1="159.6" x2="346.62" y2="164.6" stroke="#eb9898" stroke-width="1.3" />
<line x1="349.57" y1="159.6" x2="349.57" y2="164.6" stroke="#eb9898" stroke-width="1.3" />
<line x1="352.53" y1="159.6" x2="352.53" y2="164.6" stroke="#eb9898" stroke-width="1.3" />
<line x1="355.48" y1="159.6" x2="355.48" y2="164.6" stroke="#eb9898" stroke-width="1.3" />
<line x1="358.43" y1="159.6" x2="358.43" y2="164.6" stroke="#eb9898" stroke-width="1.3" />
<line x1="361.38" y1="159.6" x2="361.38" y2="164.6" stroke="#eb9898" stroke-width="1.3" />
<line x1="364.32" y1="159.6" x2="364.32" y2="164.6" stroke="#eb9898" stroke-width="1.3" />
<line x1="367.28" y1="159.6" x2="367.28" y2="164.6" stroke="#eb9898" stroke-width="1.3" />
<line x1="370.23" y1="159.6" x2="370.23" y2="164.6" stroke="#eb9898" stroke-width="1.3" />
<line x1="373.18" y1="159.6" x2="373.18" y2="164.6" stroke="#eb9898" stroke-width="1.3" />
<line x1="376.12" y1="159.6" x2="376.12" y2="164.6" stroke="#eb9898" stroke-width="1.3" />
<line x1="379.08" y1="159.6" x2="379.08" y2="164.6" stroke="#eb9898" stroke-width="1.3" />
<line x1="382.03" y1="159.6" x2="382.03" y2="164.6" stroke="#eb9898" stroke-width="1.3" />
<line x1="384.98" y1="159.6" x2="384.98" y2="164.6" stroke="#eb9898" stroke-width="1.3" />
<line x1="387.93" y1="159.6" x2="387.93" y2="164.6" stroke="#eb9898" stroke-width="1.3" />
<line x1="390.88" y1="159.6" x2="390.88" y2="164.6" stroke="#eb9898" stroke-width="1.3" />
<line x1="393.83" y1="159.6" x2="393.83" y2="164.6" stroke="#eb9898" stroke-width="1.3" />
<line x1="396.78" y1="159.6" x2="396.78" y2="164.6" stroke="#eb9898" stroke-width="1.3" />
<line x1="399.73" y1="159.6" x2="399.73" y2="164.6" stroke="#eb9898" stroke-width="1.3" />
<line x1="402.68" y1="159.6" x2="402.68" y2="164.6" stroke="#eb9898" stroke-width="1.3" />
<line x1="405.62" y1="159.6" x2="405.62" y2="164.6" stroke="#eb9898" stroke-width="1.3" />
<line x1="408.58" y1="159.6" x2="408.58" y2="164.6" stroke="#eb9898" stroke-width="1.3" />
<line x1="411.53" y1="159.6" x2="411.53" y2="164.6" stroke="#eb9898" stroke-width="1.3" />
<line x1="414.48" y1="159.6" x2="414.48" y2="164.6" stroke="#eb9898" stroke-width="1.3" />
<line x1="417.43" y1="159.6" x2="417.43" y2="164.6" stroke="#eb9898" stroke-width="1.3" />
<line x1="420.38" y1="159.6" x2="420.38" y2="164.6" stroke="#eb9898" stroke-width="1.3" />
<line x1="423.33" y1="159.6" x2="423.33" y2="164.6" stroke="#eb9898" stroke-width="1.3" />
<line x1="426.26" y1="159.6" x2="426.26" y2="164.6" stroke="#262626" stroke-width="1.3" />
<line x1="429.18" y1="159.6" x2="429.18" y2="164.6" stroke="#262626" stroke-width="1.3" />
<line x1="432.1" y1="159.6" x2="432.1" y2="164.6" stroke="#262626" stroke-width="1.3" />
<line x1="435.02" y1="159.6" x2="435.02" y2="164.6" stroke="#262626" stroke-width="1.3" />
<line x1="437.94" y1="159.6" x2="437.94" y2="164.6" stroke="#262626" stroke-width="1.3" />
<line x1="440.86" y1="159.6" x2="440.86" y2="164.6" stroke="#262626" stroke-width="1.3" />
<line x1="443.78" y1="159.6" x2="443.78" y2="164.6" stroke="#262626" stroke-width="1.3" />
<line x1="446.7" y1="159.6" x2="446.7" y2="164.6" stroke="#262626" stroke-width="1.3" />
<line x1="449.62" y1="159.6" x2="449.62" y2="164.6" stroke="#262626" stroke-width="1.3" />
<line x1="452.54" y1="159.6" x2="452.54" y2="164.6" stroke="#262626" stroke-width="1.3" />
<line x1="307" y1="159.6" x2="336.3" y2="159.6" stroke="#262626" stroke-width="1.5" />
<line x1="336.3" y1="159.6" x2="424.8" y2="159.6" stroke="#c01c20" stroke-width="1.5" />
<line x1="424.8" y1="159.6" x2="454" y2="159.6" stroke="#262626" stroke-width="1.5" />
<text x="455.8" y="161.8" font-size="7.4" fill="#222" font-style="italic" stroke="#222" stroke-width="0.2">-3'</text>
<line x1="405.76" y1="170.4" x2="405.76" y2="166.4" stroke="#1f6c9e" stroke-width="1.3" />
<line x1="408.88" y1="170.4" x2="408.88" y2="166.4" stroke="#1f6c9e" stroke-width="1.3" />
<line x1="412" y1="170.4" x2="412" y2="166.4" stroke="#1f6c9e" stroke-width="1.3" />
<line x1="415.12" y1="170.4" x2="415.12" y2="166.4" stroke="#1f6c9e" stroke-width="1.3" />
<line x1="418.24" y1="170.4" x2="418.24" y2="166.4" stroke="#1f6c9e" stroke-width="1.3" />
<line x1="404.2" y1="170.4" x2="419.8" y2="170.4" stroke="#1f6c9e" stroke-width="1.5" />
<line x1="402" y1="168.5" x2="390.5" y2="168.5" stroke="#111" stroke-width="1" />
<path d="M386.5 168.5L391 166.5L391 170.5Z" fill="#111"/>
<line x1="301.47" y1="180.1" x2="301.47" y2="184.4" stroke="#262626" stroke-width="1.3" />
<line x1="304.41" y1="180.1" x2="304.41" y2="184.4" stroke="#262626" stroke-width="1.3" />
<line x1="307.35" y1="180.1" x2="307.35" y2="184.4" stroke="#262626" stroke-width="1.3" />
<line x1="310.29" y1="180.1" x2="310.29" y2="184.4" stroke="#262626" stroke-width="1.3" />
<line x1="313.23" y1="180.1" x2="313.23" y2="184.4" stroke="#262626" stroke-width="1.3" />
<line x1="300" y1="180.1" x2="314.7" y2="180.1" stroke="#262626" stroke-width="1.5" />
<line x1="317" y1="182.4" x2="329" y2="182.4" stroke="#111" stroke-width="1" />
<path d="M333 182.4L328.5 180.4L328.5 184.4Z" fill="#111"/>
<text x="296" y="192.6" font-size="7.4" fill="#222" stroke="#222" stroke-width="0.2">3'-</text>
<line x1="307.98" y1="190.4" x2="307.98" y2="186.1" stroke="#888" stroke-width="1.3" />
<line x1="310.93" y1="190.4" x2="310.93" y2="186.1" stroke="#888" stroke-width="1.3" />
<line x1="313.88" y1="190.4" x2="313.88" y2="186.1" stroke="#888" stroke-width="1.3" />
<line x1="316.82" y1="190.4" x2="316.82" y2="186.1" stroke="#888" stroke-width="1.3" />
<line x1="319.77" y1="190.4" x2="319.77" y2="186.1" stroke="#888" stroke-width="1.3" />
<line x1="322.73" y1="190.4" x2="322.73" y2="186.1" stroke="#888" stroke-width="1.3" />
<line x1="325.68" y1="190.4" x2="325.68" y2="186.1" stroke="#888" stroke-width="1.3" />
<line x1="328.62" y1="190.4" x2="328.62" y2="186.1" stroke="#888" stroke-width="1.3" />
<line x1="331.57" y1="190.4" x2="331.57" y2="186.1" stroke="#888" stroke-width="1.3" />
<line x1="334.52" y1="190.4" x2="334.52" y2="186.1" stroke="#888" stroke-width="1.3" />
<line x1="337.48" y1="190.4" x2="337.48" y2="186.1" stroke="#1f6c9e" stroke-width="1.3" />
<line x1="340.44" y1="190.4" x2="340.44" y2="186.1" stroke="#1f6c9e" stroke-width="1.3" />
<line x1="343.4" y1="190.4" x2="343.4" y2="186.1" stroke="#1f6c9e" stroke-width="1.3" />
<line x1="346.36" y1="190.4" x2="346.36" y2="186.1" stroke="#1f6c9e" stroke-width="1.3" />
<line x1="349.32" y1="190.4" x2="349.32" y2="186.1" stroke="#1f6c9e" stroke-width="1.3" />
<line x1="352.28" y1="190.4" x2="352.28" y2="186.1" stroke="#1f6c9e" stroke-width="1.3" />
<line x1="355.24" y1="190.4" x2="355.24" y2="186.1" stroke="#1f6c9e" stroke-width="1.3" />
<line x1="358.2" y1="190.4" x2="358.2" y2="186.1" stroke="#1f6c9e" stroke-width="1.3" />
<line x1="361.16" y1="190.4" x2="361.16" y2="186.1" stroke="#1f6c9e" stroke-width="1.3" />
<line x1="364.12" y1="190.4" x2="364.12" y2="186.1" stroke="#1f6c9e" stroke-width="1.3" />
<line x1="367.08" y1="190.4" x2="367.08" y2="186.1" stroke="#1f6c9e" stroke-width="1.3" />
<line x1="370.04" y1="190.4" x2="370.04" y2="186.1" stroke="#1f6c9e" stroke-width="1.3" />
<line x1="373" y1="190.4" x2="373" y2="186.1" stroke="#1f6c9e" stroke-width="1.3" />
<line x1="375.96" y1="190.4" x2="375.96" y2="186.1" stroke="#1f6c9e" stroke-width="1.3" />
<line x1="378.92" y1="190.4" x2="378.92" y2="186.1" stroke="#1f6c9e" stroke-width="1.3" />
<line x1="381.88" y1="190.4" x2="381.88" y2="186.1" stroke="#1f6c9e" stroke-width="1.3" />
<line x1="384.84" y1="190.4" x2="384.84" y2="186.1" stroke="#1f6c9e" stroke-width="1.3" />
<line x1="387.8" y1="190.4" x2="387.8" y2="186.1" stroke="#1f6c9e" stroke-width="1.3" />
<line x1="390.76" y1="190.4" x2="390.76" y2="186.1" stroke="#1f6c9e" stroke-width="1.3" />
<line x1="393.72" y1="190.4" x2="393.72" y2="186.1" stroke="#1f6c9e" stroke-width="1.3" />
<line x1="396.68" y1="190.4" x2="396.68" y2="186.1" stroke="#1f6c9e" stroke-width="1.3" />
<line x1="399.64" y1="190.4" x2="399.64" y2="186.1" stroke="#1f6c9e" stroke-width="1.3" />
<line x1="402.6" y1="190.4" x2="402.6" y2="186.1" stroke="#1f6c9e" stroke-width="1.3" />
<line x1="405.56" y1="190.4" x2="405.56" y2="186.1" stroke="#1f6c9e" stroke-width="1.3" />
<line x1="408.52" y1="190.4" x2="408.52" y2="186.1" stroke="#1f6c9e" stroke-width="1.3" />
<line x1="411.48" y1="190.4" x2="411.48" y2="186.1" stroke="#1f6c9e" stroke-width="1.3" />
<line x1="414.44" y1="190.4" x2="414.44" y2="186.1" stroke="#1f6c9e" stroke-width="1.3" />
<line x1="417.4" y1="190.4" x2="417.4" y2="186.1" stroke="#1f6c9e" stroke-width="1.3" />
<line x1="420.36" y1="190.4" x2="420.36" y2="186.1" stroke="#1f6c9e" stroke-width="1.3" />
<line x1="423.32" y1="190.4" x2="423.32" y2="186.1" stroke="#1f6c9e" stroke-width="1.3" />
<line x1="426.26" y1="190.4" x2="426.26" y2="186.1" stroke="#262626" stroke-width="1.3" />
<line x1="429.18" y1="190.4" x2="429.18" y2="186.1" stroke="#262626" stroke-width="1.3" />
<line x1="432.1" y1="190.4" x2="432.1" y2="186.1" stroke="#262626" stroke-width="1.3" />
<line x1="435.02" y1="190.4" x2="435.02" y2="186.1" stroke="#262626" stroke-width="1.3" />
<line x1="437.94" y1="190.4" x2="437.94" y2="186.1" stroke="#262626" stroke-width="1.3" />
<line x1="440.86" y1="190.4" x2="440.86" y2="186.1" stroke="#262626" stroke-width="1.3" />
<line x1="443.78" y1="190.4" x2="443.78" y2="186.1" stroke="#262626" stroke-width="1.3" />
<line x1="446.7" y1="190.4" x2="446.7" y2="186.1" stroke="#262626" stroke-width="1.3" />
<line x1="449.62" y1="190.4" x2="449.62" y2="186.1" stroke="#262626" stroke-width="1.3" />
<line x1="452.54" y1="190.4" x2="452.54" y2="186.1" stroke="#262626" stroke-width="1.3" />
<line x1="306.5" y1="190.4" x2="336" y2="190.4" stroke="#262626" stroke-width="1.5" />
<line x1="336" y1="190.4" x2="424.8" y2="190.4" stroke="#1f6c9e" stroke-width="1.5" />
<line x1="424.8" y1="190.4" x2="454" y2="190.4" stroke="#262626" stroke-width="1.5" />
<polygon points="316.2,190.1 317.5,193.22 320.86,193.49 318.3,195.68 319.08,198.96 316.2,197.21 313.32,198.96 314.1,195.68 311.54,193.49 314.9,193.22" fill="#f0c21c"/>
<text x="455.8" y="193" font-size="7.4" fill="#222" font-style="italic" stroke="#222" stroke-width="0.2">-5'</text>
<line x1="460.6" y1="173.4" x2="477.5" y2="173.4" stroke="#111" stroke-width="1.1" />
<path d="M483 173.4L477 170.6L477 176.2Z" fill="#111"/>
<line x1="496.9" y1="168" x2="496.9" y2="179" stroke="#707070" stroke-width="0.95" />
<line x1="499.97" y1="168" x2="499.97" y2="179" stroke="#707070" stroke-width="0.95" />
<line x1="503.05" y1="168" x2="503.05" y2="179" stroke="#707070" stroke-width="0.95" />
<line x1="506.12" y1="168" x2="506.12" y2="179" stroke="#707070" stroke-width="0.95" />
<line x1="509.2" y1="168" x2="509.2" y2="179" stroke="#707070" stroke-width="0.95" />
<line x1="512.27" y1="168" x2="512.27" y2="179" stroke="#707070" stroke-width="0.95" />
<line x1="515.35" y1="168" x2="515.35" y2="179" stroke="#707070" stroke-width="0.95" />
<line x1="518.43" y1="168" x2="518.43" y2="179" stroke="#707070" stroke-width="0.95" />
<line x1="521.5" y1="168" x2="521.5" y2="179" stroke="#707070" stroke-width="0.95" />
<line x1="521.7" y1="168" x2="521.7" y2="173.5" stroke="#e48080" stroke-width="1.3" />
<line x1="521.7" y1="173.5" x2="521.7" y2="179" stroke="#4fa6d0" stroke-width="1.3" />
<line x1="524.83" y1="168" x2="524.83" y2="173.5" stroke="#e48080" stroke-width="1.3" />
<line x1="524.83" y1="173.5" x2="524.83" y2="179" stroke="#4fa6d0" stroke-width="1.3" />
<line x1="527.95" y1="168" x2="527.95" y2="173.5" stroke="#e48080" stroke-width="1.3" />
<line x1="527.95" y1="173.5" x2="527.95" y2="179" stroke="#4fa6d0" stroke-width="1.3" />
<line x1="531.08" y1="168" x2="531.08" y2="173.5" stroke="#e48080" stroke-width="1.3" />
<line x1="531.08" y1="173.5" x2="531.08" y2="179" stroke="#4fa6d0" stroke-width="1.3" />
<line x1="534.2" y1="168" x2="534.2" y2="173.5" stroke="#e48080" stroke-width="1.3" />
<line x1="534.2" y1="173.5" x2="534.2" y2="179" stroke="#4fa6d0" stroke-width="1.3" />
<line x1="537.33" y1="168" x2="537.33" y2="173.5" stroke="#e48080" stroke-width="1.3" />
<line x1="537.33" y1="173.5" x2="537.33" y2="179" stroke="#4fa6d0" stroke-width="1.3" />
<line x1="540.45" y1="168" x2="540.45" y2="173.5" stroke="#e48080" stroke-width="1.3" />
<line x1="540.45" y1="173.5" x2="540.45" y2="179" stroke="#4fa6d0" stroke-width="1.3" />
<line x1="543.58" y1="168" x2="543.58" y2="173.5" stroke="#e48080" stroke-width="1.3" />
<line x1="543.58" y1="173.5" x2="543.58" y2="179" stroke="#4fa6d0" stroke-width="1.3" />
<line x1="546.7" y1="168" x2="546.7" y2="173.5" stroke="#e48080" stroke-width="1.3" />
<line x1="546.7" y1="173.5" x2="546.7" y2="179" stroke="#4fa6d0" stroke-width="1.3" />
<line x1="549.83" y1="168" x2="549.83" y2="173.5" stroke="#e48080" stroke-width="1.3" />
<line x1="549.83" y1="173.5" x2="549.83" y2="179" stroke="#4fa6d0" stroke-width="1.3" />
<line x1="552.95" y1="168" x2="552.95" y2="173.5" stroke="#e48080" stroke-width="1.3" />
<line x1="552.95" y1="173.5" x2="552.95" y2="179" stroke="#4fa6d0" stroke-width="1.3" />
<line x1="556.08" y1="168" x2="556.08" y2="173.5" stroke="#e48080" stroke-width="1.3" />
<line x1="556.08" y1="173.5" x2="556.08" y2="179" stroke="#4fa6d0" stroke-width="1.3" />
<line x1="559.2" y1="168" x2="559.2" y2="173.5" stroke="#e48080" stroke-width="1.3" />
<line x1="559.2" y1="173.5" x2="559.2" y2="179" stroke="#4fa6d0" stroke-width="1.3" />
<line x1="562.33" y1="168" x2="562.33" y2="173.5" stroke="#e48080" stroke-width="1.3" />
<line x1="562.33" y1="173.5" x2="562.33" y2="179" stroke="#4fa6d0" stroke-width="1.3" />
<line x1="565.45" y1="168" x2="565.45" y2="173.5" stroke="#e48080" stroke-width="1.3" />
<line x1="565.45" y1="173.5" x2="565.45" y2="179" stroke="#4fa6d0" stroke-width="1.3" />
<line x1="568.58" y1="168" x2="568.58" y2="173.5" stroke="#e48080" stroke-width="1.3" />
<line x1="568.58" y1="173.5" x2="568.58" y2="179" stroke="#4fa6d0" stroke-width="1.3" />
<line x1="571.7" y1="168" x2="571.7" y2="173.5" stroke="#e48080" stroke-width="1.3" />
<line x1="571.7" y1="173.5" x2="571.7" y2="179" stroke="#4fa6d0" stroke-width="1.3" />
<line x1="574.83" y1="168" x2="574.83" y2="173.5" stroke="#e48080" stroke-width="1.3" />
<line x1="574.83" y1="173.5" x2="574.83" y2="179" stroke="#4fa6d0" stroke-width="1.3" />
<line x1="577.95" y1="168" x2="577.95" y2="173.5" stroke="#e48080" stroke-width="1.3" />
<line x1="577.95" y1="173.5" x2="577.95" y2="179" stroke="#4fa6d0" stroke-width="1.3" />
<line x1="581.08" y1="168" x2="581.08" y2="173.5" stroke="#e48080" stroke-width="1.3" />
<line x1="581.08" y1="173.5" x2="581.08" y2="179" stroke="#4fa6d0" stroke-width="1.3" />
<line x1="584.2" y1="168" x2="584.2" y2="173.5" stroke="#e48080" stroke-width="1.3" />
<line x1="584.2" y1="173.5" x2="584.2" y2="179" stroke="#4fa6d0" stroke-width="1.3" />
<line x1="495.9" y1="168" x2="521.7" y2="168" stroke="#5a5a5a" stroke-width="1.65" />
<line x1="495.9" y1="179" x2="521.7" y2="179" stroke="#5a5a5a" stroke-width="1.65" />
<line x1="521.7" y1="168" x2="584.2" y2="168" stroke="#c01c20" stroke-width="1.65" />
<line x1="521.7" y1="179" x2="584.2" y2="179" stroke="#1f6c9e" stroke-width="1.65" />
<polygon points="504.6,168.8 505.82,171.73 508.97,171.98 506.57,174.04 507.3,177.12 504.6,175.47 501.9,177.12 502.63,174.04 500.23,171.98 503.38,171.73" fill="#f0c21c"/>
<text x="485.3" y="170.8" font-size="7.4" fill="#222" stroke="#222" stroke-width="0.2">5'-</text>
<text x="485.3" y="180.6" font-size="7.4" fill="#222" stroke="#222" stroke-width="0.2">3'-</text>
<text x="488.8" y="187.4" font-size="7.2" fill="#222" textLength="18.8" lengthAdjust="spacingAndGlyphs" stroke="#222" stroke-width="0.2">attP-L</text>
<text x="585" y="170.4" font-size="7.4" fill="#222" font-style="italic" stroke="#222" stroke-width="0.2">-3'</text>
<text x="585" y="181" font-size="7.4" fill="#222" font-style="italic" stroke="#222" stroke-width="0.2">-5'</text>
<text x="-0.9" y="234.3" font-size="11.8" font-weight="bold" stroke="#000" stroke-width="0.15">b</text>
<line x1="39.8" y1="410" x2="43.4" y2="410" stroke="#000" stroke-width="1.1" />
<text x="37" y="413.4" font-size="10.2" font-weight="bold" text-anchor="end">10</text>
<line x1="39.8" y1="371.6" x2="43.4" y2="371.6" stroke="#000" stroke-width="1.1" />
<text x="37" y="375" font-size="10.2" font-weight="bold" text-anchor="end">15</text>
<line x1="39.8" y1="333.2" x2="43.4" y2="333.2" stroke="#000" stroke-width="1.1" />
<text x="37" y="336.6" font-size="10.2" font-weight="bold" text-anchor="end">20</text>
<line x1="39.8" y1="294.8" x2="43.4" y2="294.8" stroke="#000" stroke-width="1.1" />
<text x="37" y="298.2" font-size="10.2" font-weight="bold" text-anchor="end">25</text>
<line x1="39.8" y1="256.4" x2="43.4" y2="256.4" stroke="#000" stroke-width="1.1" />
<text x="37" y="259.8" font-size="10.2" font-weight="bold" text-anchor="end">30</text>
<line x1="41.4" y1="390.8" x2="43.4" y2="390.8" stroke="#000" stroke-width="1" />
<line x1="41.4" y1="352.4" x2="43.4" y2="352.4" stroke="#000" stroke-width="1" />
<line x1="41.4" y1="314" x2="43.4" y2="314" stroke="#000" stroke-width="1" />
<line x1="41.4" y1="275.6" x2="43.4" y2="275.6" stroke="#000" stroke-width="1" />
<line x1="59.7" y1="428.6" x2="59.7" y2="432.4" stroke="#000" stroke-width="1.1" />
<text x="59.7" y="443.8" font-size="10.2" font-weight="bold" text-anchor="middle">3</text>
<line x1="92.28" y1="428.6" x2="92.28" y2="432.4" stroke="#000" stroke-width="1.1" />
<text x="92.28" y="443.8" font-size="10.2" font-weight="bold" text-anchor="middle">4</text>
<line x1="124.86" y1="428.6" x2="124.86" y2="432.4" stroke="#000" stroke-width="1.1" />
<text x="124.86" y="443.8" font-size="10.2" font-weight="bold" text-anchor="middle">5</text>
<line x1="157.44" y1="428.6" x2="157.44" y2="432.4" stroke="#000" stroke-width="1.1" />
<text x="157.44" y="443.8" font-size="10.2" font-weight="bold" text-anchor="middle">6</text>
<line x1="190.02" y1="428.6" x2="190.02" y2="432.4" stroke="#000" stroke-width="1.1" />
<text x="190.02" y="443.8" font-size="10.2" font-weight="bold" text-anchor="middle">7</text>
<line x1="222.6" y1="428.6" x2="222.6" y2="432.4" stroke="#000" stroke-width="1.1" />
<text x="222.6" y="443.8" font-size="10.2" font-weight="bold" text-anchor="middle">8</text>
<line x1="255.18" y1="428.6" x2="255.18" y2="432.4" stroke="#000" stroke-width="1.1" />
<text x="255.18" y="443.8" font-size="10.2" font-weight="bold" text-anchor="middle">9</text>
<line x1="43.41" y1="428.6" x2="43.41" y2="430.6" stroke="#000" stroke-width="1" />
<line x1="75.99" y1="428.6" x2="75.99" y2="430.6" stroke="#000" stroke-width="1" />
<line x1="108.57" y1="428.6" x2="108.57" y2="430.6" stroke="#000" stroke-width="1" />
<line x1="141.15" y1="428.6" x2="141.15" y2="430.6" stroke="#000" stroke-width="1" />
<line x1="173.73" y1="428.6" x2="173.73" y2="430.6" stroke="#000" stroke-width="1" />
<line x1="206.31" y1="428.6" x2="206.31" y2="430.6" stroke="#000" stroke-width="1" />
<line x1="238.89" y1="428.6" x2="238.89" y2="430.6" stroke="#000" stroke-width="1" />
<line x1="271.47" y1="428.6" x2="271.47" y2="430.6" stroke="#000" stroke-width="1" />
<rect x="43.4" y="237.4" width="228" height="191.2" fill="none" stroke="#000" stroke-width="1.3" />
<circle cx="59.7" cy="258.9" r="2" fill="#111"/>
<circle cx="59.7" cy="256.1" r="2" fill="#1f8a1f"/>
<circle cx="92.28" cy="278.7" r="2" fill="#111"/>
<circle cx="92.28" cy="281.3" r="2" fill="#1f8a1f"/>
<circle cx="124.86" cy="310.4" r="2" fill="#111"/>
<circle cx="124.86" cy="310.2" r="2" fill="#1f8a1f"/>
<circle cx="157.44" cy="332.6" r="2" fill="#111"/>
<circle cx="157.44" cy="332.4" r="2" fill="#1f8a1f"/>
<circle cx="190.02" cy="359.8" r="2" fill="#111"/>
<circle cx="190.02" cy="359.6" r="2" fill="#1f8a1f"/>
<circle cx="222.6" cy="386.9" r="2" fill="#111"/>
<circle cx="222.6" cy="386.7" r="2" fill="#1f8a1f"/>
<circle cx="255.18" cy="410.9" r="2" fill="#111"/>
<circle cx="255.18" cy="408.8" r="2" fill="#1f8a1f"/>
<line x1="59.7" y1="257.3" x2="255.2" y2="409.8" stroke="#ff1010" stroke-width="1.35" />
<text x="224.2" y="251.2" font-size="10.2" font-weight="bold">r</text>
<text x="228.3" y="246.6" font-size="6.6" font-weight="bold">2</text>
<text x="231.8" y="251.2" font-size="10.2" font-weight="bold" textLength="31.4" lengthAdjust="spacingAndGlyphs">=0.998</text>
<text x="78.6" y="455.6" font-size="10.4" font-weight="bold" textLength="19.6" lengthAdjust="spacingAndGlyphs">Log</text>
<text x="98.8" y="458.4" font-size="6.8" font-weight="bold" textLength="6" lengthAdjust="spacingAndGlyphs">10</text>
<text x="104.9" y="455.6" font-size="10.4" font-weight="bold" textLength="131.3" lengthAdjust="spacingAndGlyphs">(flipped DNA copy number)</text>
<text transform="translate(19.2 338.9) rotate(-90)" font-size="10.2" font-weight="bold">C</text>
<text transform="translate(22.2 331.6) rotate(-90)" font-size="6.6" font-weight="bold">q</text>
<text x="296.4" y="234.4" font-size="11.6" font-weight="bold" stroke="#000" stroke-width="0.15">c</text>
<line x1="330.8" y1="237.4" x2="639" y2="237.4" stroke="#000" stroke-width="1.1" />
<line x1="330.8" y1="236.9" x2="330.8" y2="373.2" stroke="#000" stroke-width="1.2" />
<line x1="330.8" y1="376.4" x2="330.8" y2="433.6" stroke="#000" stroke-width="1.2" />
<line x1="639" y1="236.9" x2="639" y2="373.4" stroke="#000" stroke-width="1.2" />
<line x1="639" y1="376.6" x2="639" y2="433.6" stroke="#000" stroke-width="1.2" />
<line x1="330.8" y1="433.6" x2="639" y2="433.6" stroke="#000" stroke-width="1.6" />
<line x1="328.4" y1="377.2" x2="333.4" y2="372.2" stroke="#000" stroke-width="1" />
<line x1="636.6" y1="377.4" x2="641.6" y2="372.4" stroke="#000" stroke-width="1" />
<line x1="327.2" y1="356.4" x2="330.8" y2="356.4" stroke="#000" stroke-width="1.1" />
<text x="323.4" y="359.4" font-size="9.2" font-weight="bold" text-anchor="end">10</text>
<line x1="327.2" y1="332.4" x2="330.8" y2="332.4" stroke="#000" stroke-width="1.1" />
<text x="323.4" y="335.4" font-size="9.2" font-weight="bold" text-anchor="end">20</text>
<line x1="327.2" y1="308.4" x2="330.8" y2="308.4" stroke="#000" stroke-width="1.1" />
<text x="323.4" y="311.4" font-size="9.2" font-weight="bold" text-anchor="end">30</text>
<line x1="327.2" y1="284.4" x2="330.8" y2="284.4" stroke="#000" stroke-width="1.1" />
<text x="323.4" y="287.4" font-size="9.2" font-weight="bold" text-anchor="end">40</text>
<line x1="327.2" y1="260.4" x2="330.8" y2="260.4" stroke="#000" stroke-width="1.1" />
<text x="323.4" y="263.4" font-size="9.2" font-weight="bold" text-anchor="end">50</text>
<line x1="327.2" y1="236.4" x2="330.8" y2="236.4" stroke="#000" stroke-width="1.1" />
<text x="323.4" y="239.4" font-size="9.2" font-weight="bold" text-anchor="end">60</text>
<line x1="328.8" y1="368.4" x2="330.8" y2="368.4" stroke="#000" stroke-width="1" />
<line x1="328.8" y1="344.4" x2="330.8" y2="344.4" stroke="#000" stroke-width="1" />
<line x1="328.8" y1="320.4" x2="330.8" y2="320.4" stroke="#000" stroke-width="1" />
<line x1="328.8" y1="296.4" x2="330.8" y2="296.4" stroke="#000" stroke-width="1" />
<line x1="328.8" y1="272.4" x2="330.8" y2="272.4" stroke="#000" stroke-width="1" />
<line x1="328.8" y1="248.4" x2="330.8" y2="248.4" stroke="#000" stroke-width="1" />
<line x1="327.2" y1="380.4" x2="330.8" y2="380.4" stroke="#000" stroke-width="1.1" />
<text x="323.4" y="383.3" font-size="9.2" font-weight="bold" text-anchor="end">1</text>
<line x1="327.2" y1="397.33" x2="330.8" y2="397.33" stroke="#000" stroke-width="1.1" />
<text x="323.4" y="400.23" font-size="9.2" font-weight="bold" text-anchor="end">0.1</text>
<line x1="327.2" y1="414.26" x2="330.8" y2="414.26" stroke="#000" stroke-width="1.1" />
<text x="323.4" y="417.16" font-size="9.2" font-weight="bold" text-anchor="end">0.01</text>
<line x1="327.2" y1="431.19" x2="330.8" y2="431.19" stroke="#000" stroke-width="1.1" />
<text x="323.4" y="434.09" font-size="9.2" font-weight="bold" text-anchor="end">0.001</text>
<line x1="327.6" y1="426.09" x2="330.8" y2="426.09" stroke="#000" stroke-width="1.15" />
<line x1="327.6" y1="423.11" x2="330.8" y2="423.11" stroke="#000" stroke-width="1.15" />
<line x1="327.6" y1="421" x2="330.8" y2="421" stroke="#000" stroke-width="1.15" />
<line x1="327.6" y1="419.36" x2="330.8" y2="419.36" stroke="#000" stroke-width="1.15" />
<line x1="327.6" y1="418.02" x2="330.8" y2="418.02" stroke="#000" stroke-width="1.15" />
<line x1="327.6" y1="416.88" x2="330.8" y2="416.88" stroke="#000" stroke-width="1.15" />
<line x1="327.6" y1="415.9" x2="330.8" y2="415.9" stroke="#000" stroke-width="1.15" />
<line x1="327.6" y1="415.03" x2="330.8" y2="415.03" stroke="#000" stroke-width="1.15" />
<line x1="327.6" y1="409.16" x2="330.8" y2="409.16" stroke="#000" stroke-width="1.15" />
<line x1="327.6" y1="406.18" x2="330.8" y2="406.18" stroke="#000" stroke-width="1.15" />
<line x1="327.6" y1="404.07" x2="330.8" y2="404.07" stroke="#000" stroke-width="1.15" />
<line x1="327.6" y1="402.43" x2="330.8" y2="402.43" stroke="#000" stroke-width="1.15" />
<line x1="327.6" y1="401.09" x2="330.8" y2="401.09" stroke="#000" stroke-width="1.15" />
<line x1="327.6" y1="399.95" x2="330.8" y2="399.95" stroke="#000" stroke-width="1.15" />
<line x1="327.6" y1="398.97" x2="330.8" y2="398.97" stroke="#000" stroke-width="1.15" />
<line x1="327.6" y1="398.1" x2="330.8" y2="398.1" stroke="#000" stroke-width="1.15" />
<line x1="327.6" y1="392.23" x2="330.8" y2="392.23" stroke="#000" stroke-width="1.15" />
<line x1="327.6" y1="389.25" x2="330.8" y2="389.25" stroke="#000" stroke-width="1.15" />
<line x1="327.6" y1="387.14" x2="330.8" y2="387.14" stroke="#000" stroke-width="1.15" />
<line x1="327.6" y1="385.5" x2="330.8" y2="385.5" stroke="#000" stroke-width="1.15" />
<line x1="327.6" y1="384.16" x2="330.8" y2="384.16" stroke="#000" stroke-width="1.15" />
<line x1="327.6" y1="383.02" x2="330.8" y2="383.02" stroke="#000" stroke-width="1.15" />
<line x1="327.6" y1="382.04" x2="330.8" y2="382.04" stroke="#000" stroke-width="1.15" />
<line x1="327.6" y1="381.17" x2="330.8" y2="381.17" stroke="#000" stroke-width="1.15" />
<rect x="347" y="426.2" width="9.6" height="7.4" fill="#f9c0c0" stroke="#ef3a3a" stroke-width="1.25" />
<path d="M349.7 423.1L347.9 426.16L351.5 426.16Z" fill="#ee3535"/>
<circle cx="353.8" cy="427.8" r="1.6" fill="#ee3535"/>
<text x="344.8" y="442.6" font-size="8.6" font-weight="bold" text-anchor="middle">1</text>
<line x1="359" y1="433.6" x2="359" y2="446.6" stroke="#000" stroke-width="1.1" />
<rect x="375" y="411.2" width="9.6" height="22.4" fill="#f9c0c0" stroke="#ef3a3a" stroke-width="1.25" />
<path d="M377.7 408.1L375.9 411.16L379.5 411.16Z" fill="#ee3535"/>
<circle cx="381.8" cy="412.8" r="1.6" fill="#ee3535"/>
<text x="372.8" y="442.6" font-size="8.6" font-weight="bold" text-anchor="middle">2</text>
<line x1="387" y1="433.6" x2="387" y2="446.6" stroke="#000" stroke-width="1.1" />
<rect x="390" y="419.4" width="9.6" height="14.2" fill="#c2c2c2" stroke="#575757" stroke-width="1.35" />
<rect x="403" y="403.2" width="9.6" height="30.4" fill="#f9c0c0" stroke="#ef3a3a" stroke-width="1.25" />
<path d="M392.6 416.7L390.8 419.76L394.4 419.76Z" fill="#555"/>
<path d="M396.9 422.1L395.1 419.04L398.7 419.04Z" fill="#555"/>
<path d="M405.7 400.1L403.9 403.16L407.5 403.16Z" fill="#ee3535"/>
<circle cx="409.8" cy="404.8" r="1.6" fill="#ee3535"/>
<text x="400.8" y="442.6" font-size="8.6" font-weight="bold" text-anchor="middle">3</text>
<line x1="415" y1="433.6" x2="415" y2="446.6" stroke="#000" stroke-width="1.1" />
<rect x="418" y="416.3" width="9.6" height="17.3" fill="#c2c2c2" stroke="#575757" stroke-width="1.35" />
<rect x="431" y="404.3" width="9.6" height="29.3" fill="#f9c0c0" stroke="#ef3a3a" stroke-width="1.25" />
<path d="M420.6 413.6L418.8 416.66L422.4 416.66Z" fill="#555"/>
<path d="M424.9 419L423.1 415.94L426.7 415.94Z" fill="#555"/>
<path d="M433.7 401.2L431.9 404.26L435.5 404.26Z" fill="#ee3535"/>
<circle cx="437.8" cy="405.9" r="1.6" fill="#ee3535"/>
<text x="428.8" y="442.6" font-size="8.6" font-weight="bold" text-anchor="middle">4</text>
<line x1="443" y1="433.6" x2="443" y2="446.6" stroke="#000" stroke-width="1.1" />
<rect x="446" y="413.7" width="9.6" height="19.9" fill="#c2c2c2" stroke="#575757" stroke-width="1.35" />
<rect x="459" y="404.3" width="9.6" height="29.3" fill="#f9c0c0" stroke="#ef3a3a" stroke-width="1.25" />
<path d="M448.6 411L446.8 414.06L450.4 414.06Z" fill="#555"/>
<path d="M452.9 416.4L451.1 413.34L454.7 413.34Z" fill="#555"/>
<path d="M461.7 401.2L459.9 404.26L463.5 404.26Z" fill="#ee3535"/>
<circle cx="465.8" cy="405.9" r="1.6" fill="#ee3535"/>
<text x="456.8" y="442.6" font-size="8.6" font-weight="bold" text-anchor="middle">5</text>
<line x1="471" y1="433.6" x2="471" y2="446.6" stroke="#000" stroke-width="1.1" />
<rect x="474" y="404.3" width="9.6" height="29.3" fill="#c2c2c2" stroke="#575757" stroke-width="1.35" />
<rect x="487" y="392.4" width="9.6" height="41.2" fill="#f9c0c0" stroke="#ef3a3a" stroke-width="1.25" />
<path d="M476.6 401.6L474.8 404.66L478.4 404.66Z" fill="#555"/>
<path d="M480.9 407L479.1 403.94L482.7 403.94Z" fill="#555"/>
<path d="M489.7 389.3L487.9 392.36L491.5 392.36Z" fill="#ee3535"/>
<circle cx="493.8" cy="394" r="1.6" fill="#ee3535"/>
<text x="484.8" y="442.6" font-size="8.6" font-weight="bold" text-anchor="middle">10</text>
<line x1="499" y1="433.6" x2="499" y2="446.6" stroke="#000" stroke-width="1.1" />
<rect x="502" y="387.2" width="9.6" height="46.4" fill="#c2c2c2" stroke="#575757" stroke-width="1.35" />
<rect x="515" y="373.2" width="9.6" height="60.4" fill="#f9c0c0" stroke="#ef3a3a" stroke-width="1.25" />
<path d="M504.6 384.5L502.8 387.56L506.4 387.56Z" fill="#555"/>
<path d="M508.9 389.9L507.1 386.84L510.7 386.84Z" fill="#555"/>
<path d="M517.7 370.1L515.9 373.16L519.5 373.16Z" fill="#ee3535"/>
<circle cx="521.8" cy="374.8" r="1.6" fill="#ee3535"/>
<text x="512.8" y="442.6" font-size="8.6" font-weight="bold" text-anchor="middle">25</text>
<line x1="527" y1="433.6" x2="527" y2="446.6" stroke="#000" stroke-width="1.1" />
<rect x="530" y="373.7" width="9.6" height="59.9" fill="#c2c2c2" stroke="#575757" stroke-width="1.35" />
<rect x="543" y="364.7" width="9.6" height="68.9" fill="#f9c0c0" stroke="#ef3a3a" stroke-width="1.25" />
<path d="M532.6 371L530.8 374.06L534.4 374.06Z" fill="#555"/>
<path d="M536.9 376.4L535.1 373.34L538.7 373.34Z" fill="#555"/>
<path d="M545.7 361.6L543.9 364.66L547.5 364.66Z" fill="#ee3535"/>
<circle cx="549.8" cy="366.3" r="1.6" fill="#ee3535"/>
<text x="540.8" y="442.6" font-size="8.6" font-weight="bold" text-anchor="middle">50</text>
<line x1="555" y1="433.6" x2="555" y2="446.6" stroke="#000" stroke-width="1.1" />
<rect x="558" y="365.7" width="9.6" height="67.9" fill="#c2c2c2" stroke="#575757" stroke-width="1.35" />
<rect x="571" y="341.6" width="9.6" height="92" fill="#f9c0c0" stroke="#ef3a3a" stroke-width="1.25" />
<path d="M560.6 363L558.8 366.06L562.4 366.06Z" fill="#555"/>
<path d="M564.9 368.4L563.1 365.34L566.7 365.34Z" fill="#555"/>
<path d="M573.7 338.5L571.9 341.56L575.5 341.56Z" fill="#ee3535"/>
<circle cx="577.8" cy="343.2" r="1.6" fill="#ee3535"/>
<text x="568.8" y="442.6" font-size="8.6" font-weight="bold" text-anchor="middle" textLength="14.2" lengthAdjust="spacingAndGlyphs">1 00</text>
<line x1="583" y1="433.6" x2="583" y2="446.6" stroke="#000" stroke-width="1.1" />
<rect x="586" y="359.8" width="9.6" height="73.8" fill="#c2c2c2" stroke="#575757" stroke-width="1.35" />
<rect x="599" y="328.2" width="9.6" height="105.4" fill="#f9c0c0" stroke="#ef3a3a" stroke-width="1.25" />
<path d="M588.6 357.1L586.8 360.16L590.4 360.16Z" fill="#555"/>
<path d="M592.9 362.5L591.1 359.44L594.7 359.44Z" fill="#555"/>
<path d="M601.7 325.1L599.9 328.16L603.5 328.16Z" fill="#ee3535"/>
<circle cx="605.8" cy="329.8" r="1.6" fill="#ee3535"/>
<text x="596.8" y="442.6" font-size="8.6" font-weight="bold" text-anchor="middle" textLength="14.2" lengthAdjust="spacingAndGlyphs">3 00</text>
<line x1="611" y1="433.6" x2="611" y2="446.6" stroke="#000" stroke-width="1.1" />
<rect x="614" y="301.2" width="9.6" height="132.4" fill="#c2c2c2" stroke="#575757" stroke-width="1.35" />
<rect x="627" y="258.7" width="9.6" height="174.9" fill="#f9c0c0" stroke="#ef3a3a" stroke-width="1.25" />
<path d="M616.6 298.5L614.8 301.56L618.4 301.56Z" fill="#555"/>
<path d="M620.9 303.9L619.1 300.84L622.7 300.84Z" fill="#555"/>
<path d="M629.7 255.6L627.9 258.66L631.5 258.66Z" fill="#ee3535"/>
<circle cx="633.8" cy="260.3" r="1.6" fill="#ee3535"/>
<text x="625" y="442.6" font-size="8.6" font-weight="bold" text-anchor="middle" textLength="25.3" lengthAdjust="spacingAndGlyphs">300,1 h</text>
<line x1="639" y1="433.6" x2="639" y2="446.6" stroke="#000" stroke-width="1.1" />
<line x1="330.8" y1="433.6" x2="330.8" y2="446.6" stroke="#000" stroke-width="1.1" />
<rect x="334.6" y="240.8" width="22" height="10.2" fill="#c3c3c3" stroke="#555" stroke-width="1.1" />
<rect x="334.6" y="253.6" width="22" height="10.6" fill="#f9c0c0" stroke="#ee3333" stroke-width="1.1" />
<text x="359.6" y="248.8" font-size="9.8" font-weight="bold" textLength="39" lengthAdjust="spacingAndGlyphs">Library 1</text>
<text x="359.6" y="261.4" font-size="9.8" font-weight="bold" textLength="39" lengthAdjust="spacingAndGlyphs">Library 2</text>
<text x="428.6" y="462.8" font-size="10" font-weight="bold" textLength="109.6" lengthAdjust="spacingAndGlyphs">Bxb1 concentration (nM)</text>
<text transform="translate(306.9 335.9) rotate(-90)" font-size="10" font-weight="bold" text-anchor="middle" textLength="106.4" lengthAdjust="spacingAndGlyphs" stroke="#000" stroke-width="0.25">Flipped percentage (%)</text>
<rect x="47.55" y="492.45" width="21.7" height="19.65" fill="#ffffff" stroke="none" stroke-width="1" />
<rect x="69.2" y="492.45" width="20.55" height="19.65" fill="#ffe6e6" stroke="none" stroke-width="1" />
<rect x="89.7" y="492.45" width="21.65" height="19.65" fill="#ffcece" stroke="none" stroke-width="1" />
<rect x="111.3" y="492.45" width="21.75" height="19.65" fill="#ffb6b6" stroke="none" stroke-width="1" />
<rect x="133" y="492.45" width="20.85" height="19.65" fill="#ff9e9e" stroke="none" stroke-width="1" />
<rect x="153.8" y="492.45" width="21.75" height="19.65" fill="#ff8686" stroke="none" stroke-width="1" />
<rect x="175.5" y="492.45" width="21.15" height="19.65" fill="#ff8888" stroke="none" stroke-width="1" />
<rect x="196.6" y="492.45" width="21.25" height="19.65" fill="#ff8a8a" stroke="none" stroke-width="1" />
<rect x="217.8" y="492.45" width="21.75" height="19.65" fill="#ff8686" stroke="none" stroke-width="1" />
<rect x="239.5" y="492.45" width="20.65" height="19.65" fill="#ff9e9e" stroke="none" stroke-width="1" />
<rect x="47.55" y="512.05" width="21.7" height="19.5" fill="#ffffff" stroke="none" stroke-width="1" />
<rect x="69.2" y="512.05" width="20.55" height="19.5" fill="#ceceff" stroke="none" stroke-width="1" />
<rect x="89.7" y="512.05" width="21.65" height="19.5" fill="#e6e6fc" stroke="none" stroke-width="1" />
<rect x="111.3" y="512.05" width="21.75" height="19.5" fill="#e6e6fc" stroke="none" stroke-width="1" />
<rect x="133" y="512.05" width="20.85" height="19.5" fill="#e6e6fc" stroke="none" stroke-width="1" />
<rect x="153.8" y="512.05" width="21.75" height="19.5" fill="#ffffff" stroke="none" stroke-width="1" />
<rect x="175.5" y="512.05" width="21.15" height="19.5" fill="#e6e6fc" stroke="none" stroke-width="1" />
<rect x="196.6" y="512.05" width="21.25" height="19.5" fill="#ffffff" stroke="none" stroke-width="1" />
<rect x="217.8" y="512.05" width="21.75" height="19.5" fill="#e6e6fc" stroke="none" stroke-width="1" />
<rect x="239.5" y="512.05" width="20.65" height="19.5" fill="#e6e6fc" stroke="none" stroke-width="1" />
<rect x="47.55" y="531.5" width="21.7" height="19.5" fill="#ffffff" stroke="none" stroke-width="1" />
<rect x="69.2" y="531.5" width="20.55" height="19.5" fill="#ffffff" stroke="none" stroke-width="1" />
<rect x="89.7" y="531.5" width="21.65" height="19.5" fill="#ffe6e6" stroke="none" stroke-width="1" />
<rect x="111.3" y="531.5" width="21.75" height="19.5" fill="#ffe6e6" stroke="none" stroke-width="1" />
<rect x="133" y="531.5" width="20.85" height="19.5" fill="#ffe6e6" stroke="none" stroke-width="1" />
<rect x="153.8" y="531.5" width="21.75" height="19.5" fill="#ffb6b6" stroke="none" stroke-width="1" />
<rect x="175.5" y="531.5" width="21.15" height="19.5" fill="#ffb6b6" stroke="none" stroke-width="1" />
<rect x="196.6" y="531.5" width="21.25" height="19.5" fill="#ffb6b6" stroke="none" stroke-width="1" />
<rect x="217.8" y="531.5" width="21.75" height="19.5" fill="#ffb6b6" stroke="none" stroke-width="1" />
<rect x="239.5" y="531.5" width="20.65" height="19.5" fill="#ffb6b6" stroke="none" stroke-width="1" />
<rect x="47.55" y="550.95" width="21.7" height="19.5" fill="#ffffff" stroke="none" stroke-width="1" />
<rect x="69.2" y="550.95" width="20.55" height="19.5" fill="#ff9e9e" stroke="none" stroke-width="1" />
<rect x="89.7" y="550.95" width="21.65" height="19.5" fill="#ff8686" stroke="none" stroke-width="1" />
<rect x="111.3" y="550.95" width="21.75" height="19.5" fill="#ff8686" stroke="none" stroke-width="1" />
<rect x="133" y="550.95" width="20.85" height="19.5" fill="#ff8686" stroke="none" stroke-width="1" />
<rect x="153.8" y="550.95" width="21.75" height="19.5" fill="#ff8686" stroke="none" stroke-width="1" />
<rect x="175.5" y="550.95" width="21.15" height="19.5" fill="#ff8686" stroke="none" stroke-width="1" />
<rect x="196.6" y="550.95" width="21.25" height="19.5" fill="#ff8686" stroke="none" stroke-width="1" />
<rect x="217.8" y="550.95" width="21.75" height="19.5" fill="#ff8686" stroke="none" stroke-width="1" />
<rect x="239.5" y="550.95" width="20.65" height="19.5" fill="#ff9e9e" stroke="none" stroke-width="1" />
<rect x="47.55" y="570.4" width="21.7" height="19.5" fill="#ffffff" stroke="none" stroke-width="1" />
<rect x="69.2" y="570.4" width="20.55" height="19.5" fill="#ff9e9e" stroke="none" stroke-width="1" />
<rect x="89.7" y="570.4" width="21.65" height="19.5" fill="#ff8686" stroke="none" stroke-width="1" />
<rect x="111.3" y="570.4" width="21.75" height="19.5" fill="#ff8686" stroke="none" stroke-width="1" />
<rect x="133" y="570.4" width="20.85" height="19.5" fill="#ff8686" stroke="none" stroke-width="1" />
<rect x="153.8" y="570.4" width="21.75" height="19.5" fill="#ff8686" stroke="none" stroke-width="1" />
<rect x="175.5" y="570.4" width="21.15" height="19.5" fill="#ff8686" stroke="none" stroke-width="1" />
<rect x="196.6" y="570.4" width="21.25" height="19.5" fill="#ff8686" stroke="none" stroke-width="1" />
<rect x="217.8" y="570.4" width="21.75" height="19.5" fill="#ff8686" stroke="none" stroke-width="1" />
<rect x="239.5" y="570.4" width="20.65" height="19.5" fill="#ff8686" stroke="none" stroke-width="1" />
<rect x="47.55" y="589.85" width="21.7" height="19.5" fill="#ffffff" stroke="none" stroke-width="1" />
<rect x="69.2" y="589.85" width="20.55" height="19.5" fill="#ffffff" stroke="none" stroke-width="1" />
<rect x="89.7" y="589.85" width="21.65" height="19.5" fill="#ffe6e6" stroke="none" stroke-width="1" />
<rect x="111.3" y="589.85" width="21.75" height="19.5" fill="#ffe6e6" stroke="none" stroke-width="1" />
<rect x="133" y="589.85" width="20.85" height="19.5" fill="#ffe6e6" stroke="none" stroke-width="1" />
<rect x="153.8" y="589.85" width="21.75" height="19.5" fill="#ffe6e6" stroke="none" stroke-width="1" />
<rect x="175.5" y="589.85" width="21.15" height="19.5" fill="#ffcece" stroke="none" stroke-width="1" />
<rect x="196.6" y="589.85" width="21.25" height="19.5" fill="#ffcece" stroke="none" stroke-width="1" />
<rect x="217.8" y="589.85" width="21.75" height="19.5" fill="#ffb6b6" stroke="none" stroke-width="1" />
<rect x="239.5" y="589.85" width="20.65" height="19.5" fill="#ffb6b6" stroke="none" stroke-width="1" />
<rect x="47.55" y="609.3" width="21.7" height="19.5" fill="#ffffff" stroke="none" stroke-width="1" />
<rect x="69.2" y="609.3" width="20.55" height="19.5" fill="#e6e6fc" stroke="none" stroke-width="1" />
<rect x="89.7" y="609.3" width="21.65" height="19.5" fill="#e6e6fc" stroke="none" stroke-width="1" />
<rect x="111.3" y="609.3" width="21.75" height="19.5" fill="#e6e6fc" stroke="none" stroke-width="1" />
<rect x="133" y="609.3" width="20.85" height="19.5" fill="#ffffff" stroke="none" stroke-width="1" />
<rect x="153.8" y="609.3" width="21.75" height="19.5" fill="#ffffff" stroke="none" stroke-width="1" />
<rect x="175.5" y="609.3" width="21.15" height="19.5" fill="#ffffff" stroke="none" stroke-width="1" />
<rect x="196.6" y="609.3" width="21.25" height="19.5" fill="#ffffff" stroke="none" stroke-width="1" />
<rect x="217.8" y="609.3" width="21.75" height="19.5" fill="#ffffff" stroke="none" stroke-width="1" />
<rect x="239.5" y="609.3" width="20.65" height="19.5" fill="#ffffff" stroke="none" stroke-width="1" />
<rect x="47.55" y="628.75" width="21.7" height="19.5" fill="#ffffff" stroke="none" stroke-width="1" />
<rect x="69.2" y="628.75" width="20.55" height="19.5" fill="#ffffff" stroke="none" stroke-width="1" />
<rect x="89.7" y="628.75" width="21.65" height="19.5" fill="#ffffff" stroke="none" stroke-width="1" />
<rect x="111.3" y="628.75" width="21.75" height="19.5" fill="#ffffff" stroke="none" stroke-width="1" />
<rect x="133" y="628.75" width="20.85" height="19.5" fill="#ffffff" stroke="none" stroke-width="1" />
<rect x="153.8" y="628.75" width="21.75" height="19.5" fill="#ffe6e6" stroke="none" stroke-width="1" />
<rect x="175.5" y="628.75" width="21.15" height="19.5" fill="#ffe6e6" stroke="none" stroke-width="1" />
<rect x="196.6" y="628.75" width="21.25" height="19.5" fill="#ffcece" stroke="none" stroke-width="1" />
<rect x="217.8" y="628.75" width="21.75" height="19.5" fill="#ffcece" stroke="none" stroke-width="1" />
<rect x="239.5" y="628.75" width="20.65" height="19.5" fill="#ffcece" stroke="none" stroke-width="1" />
<rect x="47.55" y="648.2" width="21.7" height="19.5" fill="#ffffff" stroke="none" stroke-width="1" />
<rect x="69.2" y="648.2" width="20.55" height="19.5" fill="#ff8686" stroke="none" stroke-width="1" />
<rect x="89.7" y="648.2" width="21.65" height="19.5" fill="#ff5252" stroke="none" stroke-width="1" />
<rect x="111.3" y="648.2" width="21.75" height="19.5" fill="#ff4646" stroke="none" stroke-width="1" />
<rect x="133" y="648.2" width="20.85" height="19.5" fill="#ff4a4a" stroke="none" stroke-width="1" />
<rect x="153.8" y="648.2" width="21.75" height="19.5" fill="#ff2e2e" stroke="none" stroke-width="1" />
<rect x="175.5" y="648.2" width="21.15" height="19.5" fill="#ff2e2e" stroke="none" stroke-width="1" />
<rect x="196.6" y="648.2" width="21.25" height="19.5" fill="#ff4646" stroke="none" stroke-width="1" />
<rect x="217.8" y="648.2" width="21.75" height="19.5" fill="#ff2e2e" stroke="none" stroke-width="1" />
<rect x="239.5" y="648.2" width="20.65" height="19.5" fill="#ff2e2e" stroke="none" stroke-width="1" />
<rect x="47.55" y="667.65" width="21.7" height="19.15" fill="#ffffff" stroke="none" stroke-width="1" />
<rect x="69.2" y="667.65" width="20.55" height="19.15" fill="#ffb6b6" stroke="none" stroke-width="1" />
<rect x="89.7" y="667.65" width="21.65" height="19.15" fill="#ff8686" stroke="none" stroke-width="1" />
<rect x="111.3" y="667.65" width="21.75" height="19.15" fill="#ff8686" stroke="none" stroke-width="1" />
<rect x="133" y="667.65" width="20.85" height="19.15" fill="#ff7070" stroke="none" stroke-width="1" />
<rect x="153.8" y="667.65" width="21.75" height="19.15" fill="#ff6060" stroke="none" stroke-width="1" />
<rect x="175.5" y="667.65" width="21.15" height="19.15" fill="#ff6060" stroke="none" stroke-width="1" />
<rect x="196.6" y="667.65" width="21.25" height="19.15" fill="#ff7070" stroke="none" stroke-width="1" />
<rect x="217.8" y="667.65" width="21.75" height="19.15" fill="#ff6060" stroke="none" stroke-width="1" />
<rect x="239.5" y="667.65" width="20.65" height="19.15" fill="#ff7070" stroke="none" stroke-width="1" />
<line x1="69.2" y1="492.45" x2="69.2" y2="686.75" stroke="#c6c6c6" stroke-width="1" />
<line x1="89.7" y1="492.45" x2="89.7" y2="686.75" stroke="#c6c6c6" stroke-width="1" />
<line x1="111.3" y1="492.45" x2="111.3" y2="686.75" stroke="#c6c6c6" stroke-width="1" />
<line x1="133" y1="492.45" x2="133" y2="686.75" stroke="#c6c6c6" stroke-width="1" />
<line x1="153.8" y1="492.45" x2="153.8" y2="686.75" stroke="#c6c6c6" stroke-width="1" />
<line x1="175.5" y1="492.45" x2="175.5" y2="686.75" stroke="#c6c6c6" stroke-width="1" />
<line x1="196.6" y1="492.45" x2="196.6" y2="686.75" stroke="#c6c6c6" stroke-width="1" />
<line x1="217.8" y1="492.45" x2="217.8" y2="686.75" stroke="#c6c6c6" stroke-width="1" />
<line x1="239.5" y1="492.45" x2="239.5" y2="686.75" stroke="#c6c6c6" stroke-width="1" />
<line x1="47.55" y1="512.05" x2="260.1" y2="512.05" stroke="#c6c6c6" stroke-width="1" />
<line x1="47.55" y1="531.5" x2="260.1" y2="531.5" stroke="#c6c6c6" stroke-width="1" />
<line x1="47.55" y1="550.95" x2="260.1" y2="550.95" stroke="#c6c6c6" stroke-width="1" />
<line x1="47.55" y1="570.4" x2="260.1" y2="570.4" stroke="#c6c6c6" stroke-width="1" />
<line x1="47.55" y1="589.85" x2="260.1" y2="589.85" stroke="#c6c6c6" stroke-width="1" />
<line x1="47.55" y1="609.3" x2="260.1" y2="609.3" stroke="#c6c6c6" stroke-width="1" />
<line x1="47.55" y1="628.75" x2="260.1" y2="628.75" stroke="#c6c6c6" stroke-width="1" />
<line x1="47.55" y1="648.2" x2="260.1" y2="648.2" stroke="#c6c6c6" stroke-width="1" />
<line x1="47.55" y1="667.65" x2="260.1" y2="667.65" stroke="#c6c6c6" stroke-width="1" />
<rect x="47.55" y="492.45" width="212.55" height="194.3" fill="none" stroke="#2a2a2a" stroke-width="1.35"/>
<text x="42.6" y="504.65" font-size="10.4" font-weight="bold" text-anchor="end" textLength="17.74" lengthAdjust="spacingAndGlyphs" stroke="#000" stroke-width="0.28">18A</text>
<text x="42.6" y="524.18" font-size="10.4" font-weight="bold" text-anchor="end" textLength="18.28" lengthAdjust="spacingAndGlyphs" stroke="#000" stroke-width="0.28">17G</text>
<text x="42.6" y="543.62" font-size="10.4" font-weight="bold" text-anchor="end" textLength="17.74" lengthAdjust="spacingAndGlyphs" stroke="#000" stroke-width="0.28">16A</text>
<text x="42.6" y="563.07" font-size="10.4" font-weight="bold" text-anchor="end" textLength="17.74" lengthAdjust="spacingAndGlyphs" stroke="#000" stroke-width="0.28">15C</text>
<text x="42.6" y="582.52" font-size="10.4" font-weight="bold" text-anchor="end" textLength="17.74" lengthAdjust="spacingAndGlyphs" stroke="#000" stroke-width="0.28">14C</text>
<text x="42.6" y="601.98" font-size="10.4" font-weight="bold" text-anchor="end" textLength="17.74" lengthAdjust="spacingAndGlyphs" stroke="#000" stroke-width="0.28">13A</text>
<text x="42.6" y="621.42" font-size="10.4" font-weight="bold" text-anchor="end" textLength="18.28" lengthAdjust="spacingAndGlyphs" stroke="#000" stroke-width="0.28">12G</text>
<text x="42.6" y="640.88" font-size="10.4" font-weight="bold" text-anchor="end" textLength="16.13" lengthAdjust="spacingAndGlyphs" stroke="#000" stroke-width="0.28">11T</text>
<text x="42.6" y="660.32" font-size="10.4" font-weight="bold" text-anchor="end" textLength="16.67" lengthAdjust="spacingAndGlyphs" stroke="#000" stroke-width="0.28">10T</text>
<text x="42.6" y="679.6" font-size="10.4" font-weight="bold" text-anchor="end" textLength="12.9" lengthAdjust="spacingAndGlyphs" stroke="#000" stroke-width="0.28">9G</text>
<text transform="translate(57.88 694.6) rotate(-30)" font-size="11" text-anchor="end" textLength="47.68" lengthAdjust="spacingAndGlyphs" stroke="#000" stroke-width="0.32">Na&#239;ve library</text>
<text transform="translate(78.95 694.6) rotate(-30)" font-size="11" text-anchor="end" textLength="45.31" lengthAdjust="spacingAndGlyphs" stroke="#000" stroke-width="0.32">300 nM, 1 h</text>
<text transform="translate(100 694.6) rotate(-30)" font-size="11" text-anchor="end" textLength="54.37" lengthAdjust="spacingAndGlyphs" stroke="#000" stroke-width="0.32">300 nM, 5 min</text>
<text transform="translate(121.65 694.6) rotate(-30)" font-size="11" text-anchor="end" textLength="54.37" lengthAdjust="spacingAndGlyphs" stroke="#000" stroke-width="0.32">100 nM, 5 min</text>
<text transform="translate(142.9 694.6) rotate(-30)" font-size="11" text-anchor="end" textLength="49.59" lengthAdjust="spacingAndGlyphs" stroke="#000" stroke-width="0.32">50 nM, 5 min</text>
<text transform="translate(164.15 694.6) rotate(-30)" font-size="11" text-anchor="end" textLength="49.59" lengthAdjust="spacingAndGlyphs" stroke="#000" stroke-width="0.32">25 nM, 5 min</text>
<text transform="translate(185.55 694.6) rotate(-30)" font-size="11" text-anchor="end" textLength="49.59" lengthAdjust="spacingAndGlyphs" stroke="#000" stroke-width="0.32">10 nM, 5 min</text>
<text transform="translate(206.7 694.6) rotate(-30)" font-size="11" text-anchor="end" textLength="44.82" lengthAdjust="spacingAndGlyphs" stroke="#000" stroke-width="0.32">5 nM, 5 min</text>
<text transform="translate(228.15 694.6) rotate(-30)" font-size="11" text-anchor="end" textLength="44.82" lengthAdjust="spacingAndGlyphs" stroke="#000" stroke-width="0.32">4 nM, 5 min</text>
<text transform="translate(249.3 694.6) rotate(-30)" font-size="11" text-anchor="end" textLength="44.82" lengthAdjust="spacingAndGlyphs" stroke="#000" stroke-width="0.32">3 nM, 5 min</text>
<text x="-0.8" y="492.5" font-size="11.6" font-weight="bold" stroke="#000" stroke-width="0.15">d</text>
<text x="98" y="729.6" font-size="9.8" font-weight="bold" textLength="101" lengthAdjust="spacingAndGlyphs">Selection conditions</text>
<line x1="260.1" y1="492.45" x2="260.1" y2="686.75" stroke="#3c3c3c" stroke-width="1.6" />
<line x1="47.55" y1="686.75" x2="260.1" y2="686.75" stroke="#3c3c3c" stroke-width="1.6" />
<text transform="translate(16.7 588.6) rotate(-90)" font-size="10.4" font-weight="bold" text-anchor="middle" textLength="67" lengthAdjust="spacingAndGlyphs" stroke="#000" stroke-width="0.2">WT sequence</text>
<rect x="340.4" y="491.95" width="22.05" height="20.15" fill="#ffffff" stroke="none" stroke-width="1" />
<rect x="362.4" y="491.95" width="22.25" height="20.15" fill="#ff4646" stroke="none" stroke-width="1" />
<rect x="384.6" y="491.95" width="20.35" height="20.15" fill="#ff2e2e" stroke="none" stroke-width="1" />
<rect x="404.9" y="491.95" width="21.45" height="20.15" fill="#ff2e2e" stroke="none" stroke-width="1" />
<rect x="426.3" y="491.95" width="21.35" height="20.15" fill="#ff1a1a" stroke="none" stroke-width="1" />
<rect x="447.6" y="491.95" width="21.35" height="20.15" fill="#ff1a1a" stroke="none" stroke-width="1" />
<rect x="468.9" y="491.95" width="20.75" height="20.15" fill="#ff1a1a" stroke="none" stroke-width="1" />
<rect x="489.6" y="491.95" width="21.75" height="20.15" fill="#ff2e2e" stroke="none" stroke-width="1" />
<rect x="511.3" y="491.95" width="21.75" height="20.15" fill="#ff1a1a" stroke="none" stroke-width="1" />
<rect x="533" y="491.95" width="20.75" height="20.15" fill="#ff1a1a" stroke="none" stroke-width="1" />
<rect x="553.7" y="491.95" width="21.75" height="20.15" fill="#ff1a1a" stroke="none" stroke-width="1" />
<rect x="575.4" y="491.95" width="20.4" height="20.15" fill="#ff1a1a" stroke="none" stroke-width="1" />
<rect x="340.4" y="512.05" width="22.05" height="19.5" fill="#ffffff" stroke="none" stroke-width="1" />
<rect x="362.4" y="512.05" width="22.25" height="19.5" fill="#ffffff" stroke="none" stroke-width="1" />
<rect x="384.6" y="512.05" width="20.35" height="19.5" fill="#ffffff" stroke="none" stroke-width="1" />
<rect x="404.9" y="512.05" width="21.45" height="19.5" fill="#ffffff" stroke="none" stroke-width="1" />
<rect x="426.3" y="512.05" width="21.35" height="19.5" fill="#ffffff" stroke="none" stroke-width="1" />
<rect x="447.6" y="512.05" width="21.35" height="19.5" fill="#ffffff" stroke="none" stroke-width="1" />
<rect x="468.9" y="512.05" width="20.75" height="19.5" fill="#ffffff" stroke="none" stroke-width="1" />
<rect x="489.6" y="512.05" width="21.75" height="19.5" fill="#ffffff" stroke="none" stroke-width="1" />
<rect x="511.3" y="512.05" width="21.75" height="19.5" fill="#ffffff" stroke="none" stroke-width="1" />
<rect x="533" y="512.05" width="20.75" height="19.5" fill="#ffffff" stroke="none" stroke-width="1" />
<rect x="553.7" y="512.05" width="21.75" height="19.5" fill="#ffffff" stroke="none" stroke-width="1" />
<rect x="575.4" y="512.05" width="20.4" height="19.5" fill="#e8e8ff" stroke="none" stroke-width="1" />
<rect x="340.4" y="531.5" width="22.05" height="19.5" fill="#ffffff" stroke="none" stroke-width="1" />
<rect x="362.4" y="531.5" width="22.25" height="19.5" fill="#ffffff" stroke="none" stroke-width="1" />
<rect x="384.6" y="531.5" width="20.35" height="19.5" fill="#ffffff" stroke="none" stroke-width="1" />
<rect x="404.9" y="531.5" width="21.45" height="19.5" fill="#ffffff" stroke="none" stroke-width="1" />
<rect x="426.3" y="531.5" width="21.35" height="19.5" fill="#ffffff" stroke="none" stroke-width="1" />
<rect x="447.6" y="531.5" width="21.35" height="19.5" fill="#ffffff" stroke="none" stroke-width="1" />
<rect x="468.9" y="531.5" width="20.75" height="19.5" fill="#ffe8e8" stroke="none" stroke-width="1" />
<rect x="489.6" y="531.5" width="21.75" height="19.5" fill="#ffffff" stroke="none" stroke-width="1" />
<rect x="511.3" y="531.5" width="21.75" height="19.5" fill="#ffd0d0" stroke="none" stroke-width="1" />
<rect x="533" y="531.5" width="20.75" height="19.5" fill="#ffd0d0" stroke="none" stroke-width="1" />
<rect x="553.7" y="531.5" width="21.75" height="19.5" fill="#ffd0d0" stroke="none" stroke-width="1" />
<rect x="575.4" y="531.5" width="20.4" height="19.5" fill="#ffb9b9" stroke="none" stroke-width="1" />
<rect x="340.4" y="550.95" width="22.05" height="19.5" fill="#ffffff" stroke="none" stroke-width="1" />
<rect x="362.4" y="550.95" width="22.25" height="19.5" fill="#ffb9b9" stroke="none" stroke-width="1" />
<rect x="384.6" y="550.95" width="20.35" height="19.5" fill="#ffb9b9" stroke="none" stroke-width="1" />
<rect x="404.9" y="550.95" width="21.45" height="19.5" fill="#ffa2a2" stroke="none" stroke-width="1" />
<rect x="426.3" y="550.95" width="21.35" height="19.5" fill="#ffa2a2" stroke="none" stroke-width="1" />
<rect x="447.6" y="550.95" width="21.35" height="19.5" fill="#ffb9b9" stroke="none" stroke-width="1" />
<rect x="468.9" y="550.95" width="20.75" height="19.5" fill="#ffb9b9" stroke="none" stroke-width="1" />
<rect x="489.6" y="550.95" width="21.75" height="19.5" fill="#ffa2a2" stroke="none" stroke-width="1" />
<rect x="511.3" y="550.95" width="21.75" height="19.5" fill="#ffa2a2" stroke="none" stroke-width="1" />
<rect x="533" y="550.95" width="20.75" height="19.5" fill="#ffa2a2" stroke="none" stroke-width="1" />
<rect x="553.7" y="550.95" width="21.75" height="19.5" fill="#ffb9b9" stroke="none" stroke-width="1" />
<rect x="575.4" y="550.95" width="20.4" height="19.5" fill="#ffb9b9" stroke="none" stroke-width="1" />
<rect x="340.4" y="570.4" width="22.05" height="19.5" fill="#ffffff" stroke="none" stroke-width="1" />
<rect x="362.4" y="570.4" width="22.25" height="19.5" fill="#ffa2a2" stroke="none" stroke-width="1" />
<rect x="384.6" y="570.4" width="20.35" height="19.5" fill="#ff7474" stroke="none" stroke-width="1" />
<rect x="404.9" y="570.4" width="21.45" height="19.5" fill="#ff7474" stroke="none" stroke-width="1" />
<rect x="426.3" y="570.4" width="21.35" height="19.5" fill="#ff7474" stroke="none" stroke-width="1" />
<rect x="447.6" y="570.4" width="21.35" height="19.5" fill="#ff8b8b" stroke="none" stroke-width="1" />
<rect x="468.9" y="570.4" width="20.75" height="19.5" fill="#ff8b8b" stroke="none" stroke-width="1" />
<rect x="489.6" y="570.4" width="21.75" height="19.5" fill="#ff8b8b" stroke="none" stroke-width="1" />
<rect x="511.3" y="570.4" width="21.75" height="19.5" fill="#ff8b8b" stroke="none" stroke-width="1" />
<rect x="533" y="570.4" width="20.75" height="19.5" fill="#ff8b8b" stroke="none" stroke-width="1" />
<rect x="553.7" y="570.4" width="21.75" height="19.5" fill="#ff7474" stroke="none" stroke-width="1" />
<rect x="575.4" y="570.4" width="20.4" height="19.5" fill="#ff8b8b" stroke="none" stroke-width="1" />
<rect x="340.4" y="589.85" width="22.05" height="19.5" fill="#ffffff" stroke="none" stroke-width="1" />
<rect x="362.4" y="589.85" width="22.25" height="19.5" fill="#ffffff" stroke="none" stroke-width="1" />
<rect x="384.6" y="589.85" width="20.35" height="19.5" fill="#ffffff" stroke="none" stroke-width="1" />
<rect x="404.9" y="589.85" width="21.45" height="19.5" fill="#ffffff" stroke="none" stroke-width="1" />
<rect x="426.3" y="589.85" width="21.35" height="19.5" fill="#ffffff" stroke="none" stroke-width="1" />
<rect x="447.6" y="589.85" width="21.35" height="19.5" fill="#ffffff" stroke="none" stroke-width="1" />
<rect x="468.9" y="589.85" width="20.75" height="19.5" fill="#ffffff" stroke="none" stroke-width="1" />
<rect x="489.6" y="589.85" width="21.75" height="19.5" fill="#ffffff" stroke="none" stroke-width="1" />
<rect x="511.3" y="589.85" width="21.75" height="19.5" fill="#ffe8e8" stroke="none" stroke-width="1" />
<rect x="533" y="589.85" width="20.75" height="19.5" fill="#ffe8e8" stroke="none" stroke-width="1" />
<rect x="553.7" y="589.85" width="21.75" height="19.5" fill="#ffd0d0" stroke="none" stroke-width="1" />
<rect x="575.4" y="589.85" width="20.4" height="19.5" fill="#ffd0d0" stroke="none" stroke-width="1" />
<rect x="340.4" y="609.3" width="22.05" height="19.5" fill="#ffffff" stroke="none" stroke-width="1" />
<rect x="362.4" y="609.3" width="22.25" height="19.5" fill="#ffffff" stroke="none" stroke-width="1" />
<rect x="384.6" y="609.3" width="20.35" height="19.5" fill="#ffe8e8" stroke="none" stroke-width="1" />
<rect x="404.9" y="609.3" width="21.45" height="19.5" fill="#ffe8e8" stroke="none" stroke-width="1" />
<rect x="426.3" y="609.3" width="21.35" height="19.5" fill="#ffe8e8" stroke="none" stroke-width="1" />
<rect x="447.6" y="609.3" width="21.35" height="19.5" fill="#ffe8e8" stroke="none" stroke-width="1" />
<rect x="468.9" y="609.3" width="20.75" height="19.5" fill="#ffd0d0" stroke="none" stroke-width="1" />
<rect x="489.6" y="609.3" width="21.75" height="19.5" fill="#ffe8e8" stroke="none" stroke-width="1" />
<rect x="511.3" y="609.3" width="21.75" height="19.5" fill="#ffb9b9" stroke="none" stroke-width="1" />
<rect x="533" y="609.3" width="20.75" height="19.5" fill="#ffb9b9" stroke="none" stroke-width="1" />
<rect x="553.7" y="609.3" width="21.75" height="19.5" fill="#ffd0d0" stroke="none" stroke-width="1" />
<rect x="575.4" y="609.3" width="20.4" height="19.5" fill="#ffd0d0" stroke="none" stroke-width="1" />
<rect x="340.4" y="628.75" width="22.05" height="19.5" fill="#ffffff" stroke="none" stroke-width="1" />
<rect x="362.4" y="628.75" width="22.25" height="19.5" fill="#d0d0ff" stroke="none" stroke-width="1" />
<rect x="384.6" y="628.75" width="20.35" height="19.5" fill="#b9b9ff" stroke="none" stroke-width="1" />
<rect x="404.9" y="628.75" width="21.45" height="19.5" fill="#b9b9ff" stroke="none" stroke-width="1" />
<rect x="426.3" y="628.75" width="21.35" height="19.5" fill="#b9b9ff" stroke="none" stroke-width="1" />
<rect x="447.6" y="628.75" width="21.35" height="19.5" fill="#b9b9ff" stroke="none" stroke-width="1" />
<rect x="468.9" y="628.75" width="20.75" height="19.5" fill="#b9b9ff" stroke="none" stroke-width="1" />
<rect x="489.6" y="628.75" width="21.75" height="19.5" fill="#b9b9ff" stroke="none" stroke-width="1" />
<rect x="511.3" y="628.75" width="21.75" height="19.5" fill="#8b8bff" stroke="none" stroke-width="1" />
<rect x="533" y="628.75" width="20.75" height="19.5" fill="#8b8bff" stroke="none" stroke-width="1" />
<rect x="553.7" y="628.75" width="21.75" height="19.5" fill="#8b8bff" stroke="none" stroke-width="1" />
<rect x="575.4" y="628.75" width="20.4" height="19.5" fill="#b9b9ff" stroke="none" stroke-width="1" />
<rect x="340.4" y="648.2" width="22.05" height="19.5" fill="#ffffff" stroke="none" stroke-width="1" />
<rect x="362.4" y="648.2" width="22.25" height="19.5" fill="#ffffff" stroke="none" stroke-width="1" />
<rect x="384.6" y="648.2" width="20.35" height="19.5" fill="#ffffff" stroke="none" stroke-width="1" />
<rect x="404.9" y="648.2" width="21.45" height="19.5" fill="#ffffff" stroke="none" stroke-width="1" />
<rect x="426.3" y="648.2" width="21.35" height="19.5" fill="#ffffff" stroke="none" stroke-width="1" />
<rect x="447.6" y="648.2" width="21.35" height="19.5" fill="#e8e8ff" stroke="none" stroke-width="1" />
<rect x="468.9" y="648.2" width="20.75" height="19.5" fill="#e8e8ff" stroke="none" stroke-width="1" />
<rect x="489.6" y="648.2" width="21.75" height="19.5" fill="#e8e8ff" stroke="none" stroke-width="1" />
<rect x="511.3" y="648.2" width="21.75" height="19.5" fill="#d0d0ff" stroke="none" stroke-width="1" />
<rect x="533" y="648.2" width="20.75" height="19.5" fill="#d0d0ff" stroke="none" stroke-width="1" />
<rect x="553.7" y="648.2" width="21.75" height="19.5" fill="#8b8bff" stroke="none" stroke-width="1" />
<rect x="575.4" y="648.2" width="20.4" height="19.5" fill="#8b8bff" stroke="none" stroke-width="1" />
<rect x="340.4" y="667.65" width="22.05" height="19.15" fill="#ffffff" stroke="none" stroke-width="1" />
<rect x="362.4" y="667.65" width="22.25" height="19.15" fill="#ffffff" stroke="none" stroke-width="1" />
<rect x="384.6" y="667.65" width="20.35" height="19.15" fill="#ffe8e8" stroke="none" stroke-width="1" />
<rect x="404.9" y="667.65" width="21.45" height="19.15" fill="#ffd0d0" stroke="none" stroke-width="1" />
<rect x="426.3" y="667.65" width="21.35" height="19.15" fill="#ffd0d0" stroke="none" stroke-width="1" />
<rect x="447.6" y="667.65" width="21.35" height="19.15" fill="#ffb9b9" stroke="none" stroke-width="1" />
<rect x="468.9" y="667.65" width="20.75" height="19.15" fill="#ffb9b9" stroke="none" stroke-width="1" />
<rect x="489.6" y="667.65" width="21.75" height="19.15" fill="#ffb9b9" stroke="none" stroke-width="1" />
<rect x="511.3" y="667.65" width="21.75" height="19.15" fill="#ffa2a2" stroke="none" stroke-width="1" />
<rect x="533" y="667.65" width="20.75" height="19.15" fill="#ffa2a2" stroke="none" stroke-width="1" />
<rect x="553.7" y="667.65" width="21.75" height="19.15" fill="#ff5a5a" stroke="none" stroke-width="1" />
<rect x="575.4" y="667.65" width="20.4" height="19.15" fill="#ff5a5a" stroke="none" stroke-width="1" />
<line x1="362.4" y1="491.95" x2="362.4" y2="686.75" stroke="#c6c6c6" stroke-width="1" />
<line x1="384.6" y1="491.95" x2="384.6" y2="686.75" stroke="#c6c6c6" stroke-width="1" />
<line x1="404.9" y1="491.95" x2="404.9" y2="686.75" stroke="#c6c6c6" stroke-width="1" />
<line x1="426.3" y1="491.95" x2="426.3" y2="686.75" stroke="#c6c6c6" stroke-width="1" />
<line x1="447.6" y1="491.95" x2="447.6" y2="686.75" stroke="#c6c6c6" stroke-width="1" />
<line x1="468.9" y1="491.95" x2="468.9" y2="686.75" stroke="#c6c6c6" stroke-width="1" />
<line x1="489.6" y1="491.95" x2="489.6" y2="686.75" stroke="#c6c6c6" stroke-width="1" />
<line x1="511.3" y1="491.95" x2="511.3" y2="686.75" stroke="#c6c6c6" stroke-width="1" />
<line x1="533" y1="491.95" x2="533" y2="686.75" stroke="#c6c6c6" stroke-width="1" />
<line x1="553.7" y1="491.95" x2="553.7" y2="686.75" stroke="#c6c6c6" stroke-width="1" />
<line x1="575.4" y1="491.95" x2="575.4" y2="686.75" stroke="#c6c6c6" stroke-width="1" />
<line x1="340.4" y1="512.05" x2="595.75" y2="512.05" stroke="#c6c6c6" stroke-width="1" />
<line x1="340.4" y1="531.5" x2="595.75" y2="531.5" stroke="#c6c6c6" stroke-width="1" />
<line x1="340.4" y1="550.95" x2="595.75" y2="550.95" stroke="#c6c6c6" stroke-width="1" />
<line x1="340.4" y1="570.4" x2="595.75" y2="570.4" stroke="#c6c6c6" stroke-width="1" />
<line x1="340.4" y1="589.85" x2="595.75" y2="589.85" stroke="#c6c6c6" stroke-width="1" />
<line x1="340.4" y1="609.3" x2="595.75" y2="609.3" stroke="#c6c6c6" stroke-width="1" />
<line x1="340.4" y1="628.75" x2="595.75" y2="628.75" stroke="#c6c6c6" stroke-width="1" />
<line x1="340.4" y1="648.2" x2="595.75" y2="648.2" stroke="#c6c6c6" stroke-width="1" />
<line x1="340.4" y1="667.65" x2="595.75" y2="667.65" stroke="#c6c6c6" stroke-width="1" />
<rect x="340.4" y="491.95" width="255.35" height="194.8" fill="none" stroke="#050808" stroke-width="1.95"/>
<text x="336.4" y="504.4" font-size="10.4" font-weight="bold" text-anchor="end" textLength="17.74" lengthAdjust="spacingAndGlyphs" stroke="#000" stroke-width="0.28">19C</text>
<text x="336.4" y="524.18" font-size="10.4" font-weight="bold" text-anchor="end" textLength="18.28" lengthAdjust="spacingAndGlyphs" stroke="#000" stroke-width="0.28">17G</text>
<text x="336.4" y="543.62" font-size="10.4" font-weight="bold" text-anchor="end" textLength="17.74" lengthAdjust="spacingAndGlyphs" stroke="#000" stroke-width="0.28">16A</text>
<text x="336.4" y="563.07" font-size="10.4" font-weight="bold" text-anchor="end" textLength="17.74" lengthAdjust="spacingAndGlyphs" stroke="#000" stroke-width="0.28">15C</text>
<text x="336.4" y="582.52" font-size="10.4" font-weight="bold" text-anchor="end" textLength="17.74" lengthAdjust="spacingAndGlyphs" stroke="#000" stroke-width="0.28">14C</text>
<text x="336.4" y="601.98" font-size="10.4" font-weight="bold" text-anchor="end" textLength="18.28" lengthAdjust="spacingAndGlyphs" stroke="#000" stroke-width="0.28">12G</text>
<text x="336.4" y="621.42" font-size="10.4" font-weight="bold" text-anchor="end" textLength="16.13" lengthAdjust="spacingAndGlyphs" stroke="#000" stroke-width="0.28">11T</text>
<text x="336.4" y="640.88" font-size="10.4" font-weight="bold" text-anchor="end" textLength="12.9" lengthAdjust="spacingAndGlyphs" stroke="#000" stroke-width="0.28">8G</text>
<text x="336.4" y="660.32" font-size="10.4" font-weight="bold" text-anchor="end" textLength="12.9" lengthAdjust="spacingAndGlyphs" stroke="#000" stroke-width="0.28">5G</text>
<text x="336.4" y="679.6" font-size="10.4" font-weight="bold" text-anchor="end" textLength="12.9" lengthAdjust="spacingAndGlyphs" stroke="#000" stroke-width="0.28">3G</text>
<text transform="translate(350.9 694.6) rotate(-30)" font-size="11" text-anchor="end" textLength="47.68" lengthAdjust="spacingAndGlyphs" stroke="#000" stroke-width="0.32">Naive library</text>
<text transform="translate(373 694.6) rotate(-30)" font-size="11" text-anchor="end" textLength="45.31" lengthAdjust="spacingAndGlyphs" stroke="#000" stroke-width="0.32">300 nM, 1 h</text>
<text transform="translate(394.25 694.6) rotate(-30)" font-size="11" text-anchor="end" textLength="54.37" lengthAdjust="spacingAndGlyphs" stroke="#000" stroke-width="0.32">300 nM, 5 min</text>
<text transform="translate(415.1 694.6) rotate(-30)" font-size="11" text-anchor="end" textLength="54.37" lengthAdjust="spacingAndGlyphs" stroke="#000" stroke-width="0.32">100 nM, 5 min</text>
<text transform="translate(436.45 694.6) rotate(-30)" font-size="11" text-anchor="end" textLength="49.59" lengthAdjust="spacingAndGlyphs" stroke="#000" stroke-width="0.32">50 nM, 5 min</text>
<text transform="translate(457.75 694.6) rotate(-30)" font-size="11" text-anchor="end" textLength="49.59" lengthAdjust="spacingAndGlyphs" stroke="#000" stroke-width="0.32">25 nM, 5 min</text>
<text transform="translate(478.75 694.6) rotate(-30)" font-size="11" text-anchor="end" textLength="49.59" lengthAdjust="spacingAndGlyphs" stroke="#000" stroke-width="0.32">10 nM, 5 min</text>
<text transform="translate(499.95 694.6) rotate(-30)" font-size="11" text-anchor="end" textLength="44.82" lengthAdjust="spacingAndGlyphs" stroke="#000" stroke-width="0.32">5 nM, 5 min</text>
<text transform="translate(521.65 694.6) rotate(-30)" font-size="11" text-anchor="end" textLength="44.82" lengthAdjust="spacingAndGlyphs" stroke="#000" stroke-width="0.32">4 nM, 5 min</text>
<text transform="translate(542.85 694.6) rotate(-30)" font-size="11" text-anchor="end" textLength="44.82" lengthAdjust="spacingAndGlyphs" stroke="#000" stroke-width="0.32">3 nM, 5 min</text>
<text transform="translate(564.05 694.6) rotate(-30)" font-size="11" text-anchor="end" textLength="44.82" lengthAdjust="spacingAndGlyphs" stroke="#000" stroke-width="0.32">2 nM, 5 min</text>
<text transform="translate(585.08 694.6) rotate(-30)" font-size="11" text-anchor="end" textLength="44.82" lengthAdjust="spacingAndGlyphs" stroke="#000" stroke-width="0.32">1 nM, 5 min</text>
<text x="296.2" y="492.5" font-size="11.6" font-weight="bold" stroke="#000" stroke-width="0.15">e</text>
<text x="413.5" y="729.6" font-size="9.8" font-weight="bold" textLength="100.2" lengthAdjust="spacingAndGlyphs">Selection conditions</text>
<text transform="translate(309 588.6) rotate(-90)" font-size="10.4" font-weight="bold" text-anchor="middle" textLength="67" lengthAdjust="spacingAndGlyphs" stroke="#000" stroke-width="0.2">WT sequence</text>
<rect x="624.4" y="527.4" width="27.2" height="7.22" fill="#ff0000" stroke="none" stroke-width="1" />
<rect x="624.4" y="534.02" width="27.2" height="7.22" fill="#ff1717" stroke="none" stroke-width="1" />
<rect x="624.4" y="540.64" width="27.2" height="7.22" fill="#ff2e2e" stroke="none" stroke-width="1" />
<rect x="624.4" y="547.26" width="27.2" height="7.22" fill="#ff4646" stroke="none" stroke-width="1" />
<rect x="624.4" y="553.88" width="27.2" height="7.22" fill="#ff5d5d" stroke="none" stroke-width="1" />
<rect x="624.4" y="560.5" width="27.2" height="7.22" fill="#ff7474" stroke="none" stroke-width="1" />
<rect x="624.4" y="567.12" width="27.2" height="7.22" fill="#ff8b8b" stroke="none" stroke-width="1" />
<rect x="624.4" y="573.75" width="27.2" height="7.22" fill="#ffa2a2" stroke="none" stroke-width="1" />
<rect x="624.4" y="580.37" width="27.2" height="7.22" fill="#ffb9b9" stroke="none" stroke-width="1" />
<rect x="624.4" y="586.99" width="27.2" height="7.22" fill="#ffd1d1" stroke="none" stroke-width="1" />
<rect x="624.4" y="593.61" width="27.2" height="7.22" fill="#ffe8e8" stroke="none" stroke-width="1" />
<rect x="624.4" y="600.23" width="27.2" height="7.22" fill="#ffffff" stroke="none" stroke-width="1" />
<rect x="624.4" y="606.85" width="27.2" height="7.22" fill="#ffffff" stroke="none" stroke-width="1" />
<rect x="624.4" y="613.47" width="27.2" height="7.22" fill="#e8e8ff" stroke="none" stroke-width="1" />
<rect x="624.4" y="620.09" width="27.2" height="7.22" fill="#d1d1ff" stroke="none" stroke-width="1" />
<rect x="624.4" y="626.71" width="27.2" height="7.22" fill="#b9b9ff" stroke="none" stroke-width="1" />
<rect x="624.4" y="633.33" width="27.2" height="7.22" fill="#a2a2ff" stroke="none" stroke-width="1" />
<rect x="624.4" y="639.95" width="27.2" height="7.22" fill="#8b8bff" stroke="none" stroke-width="1" />
<rect x="624.4" y="646.57" width="27.2" height="7.22" fill="#7474ff" stroke="none" stroke-width="1" />
<rect x="624.4" y="653.2" width="27.2" height="7.22" fill="#5d5dff" stroke="none" stroke-width="1" />
<rect x="624.4" y="659.82" width="27.2" height="7.22" fill="#4646ff" stroke="none" stroke-width="1" />
<rect x="624.4" y="666.44" width="27.2" height="7.22" fill="#2e2eff" stroke="none" stroke-width="1" />
<rect x="624.4" y="673.06" width="27.2" height="7.22" fill="#1717ff" stroke="none" stroke-width="1" />
<rect x="624.4" y="679.68" width="27.2" height="6.62" fill="#0000ff" stroke="none" stroke-width="1" />
<rect x="624.4" y="527.4" width="27.2" height="158.9" fill="none" stroke="#000" stroke-width="1.1" />
<line x1="651.6" y1="527.4" x2="655.4" y2="527.4" stroke="#000" stroke-width="1.1" />
<text x="658.6" y="531" font-size="10.4" font-weight="bold" stroke="#000" stroke-width="0.15">2</text>
<line x1="651.6" y1="567.12" x2="655.4" y2="567.12" stroke="#000" stroke-width="1.1" />
<text x="658.6" y="570.73" font-size="10.4" font-weight="bold" stroke="#000" stroke-width="0.15">1</text>
<line x1="651.6" y1="606.85" x2="655.4" y2="606.85" stroke="#000" stroke-width="1.1" />
<text x="658.6" y="610.45" font-size="10.4" font-weight="bold" stroke="#000" stroke-width="0.15">0</text>
<line x1="651.6" y1="646.57" x2="655.4" y2="646.57" stroke="#000" stroke-width="1.1" />
<text x="658.6" y="650.17" font-size="10.4" font-weight="bold" stroke="#000" stroke-width="0.15">-1</text>
<line x1="651.6" y1="686.3" x2="655.4" y2="686.3" stroke="#000" stroke-width="1.1" />
<text x="658.6" y="689.9" font-size="10.4" font-weight="bold" stroke="#000" stroke-width="0.15">-2</text>
<text x="600.7" y="516.4" font-size="9.4" font-weight="bold">Log</text>
<text x="618.8" y="519" font-size="6.2" font-weight="bold">2</text>
<text x="622.4" y="516.4" font-size="9.4" font-weight="bold" textLength="62.4" lengthAdjust="spacingAndGlyphs">(enrichment)</text>
</svg>
</body></html>
